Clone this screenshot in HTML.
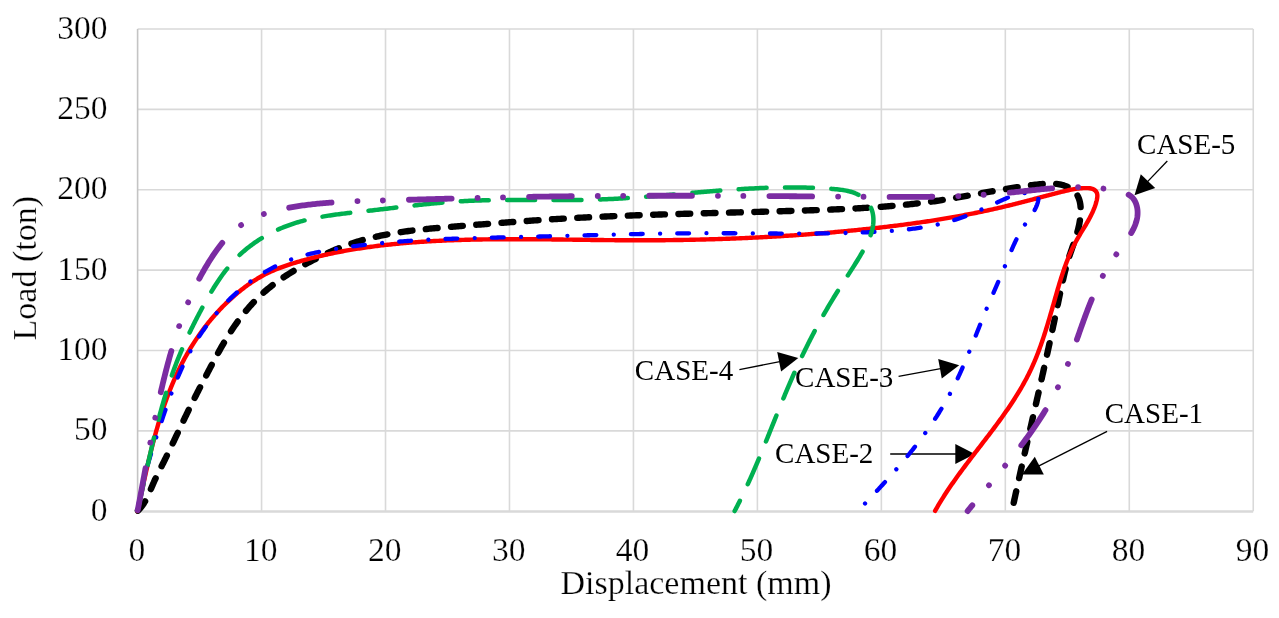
<!DOCTYPE html>
<html><head><meta charset="utf-8"><style>
html,body{margin:0;padding:0;background:#fff;width:1279px;height:618px;overflow:hidden;font-family:"Liberation Serif",serif}
svg{display:block;will-change:transform}
</style></head><body>
<svg width="1279" height="618" viewBox="0 0 1279 618">
<rect width="1279" height="618" fill="#fff"/>
<g stroke="#d9d9d9" stroke-width="1.6"><line x1="137.6" y1="430.92" x2="1253.2" y2="430.92"/><line x1="137.6" y1="350.53" x2="1253.2" y2="350.53"/><line x1="137.6" y1="270.15" x2="1253.2" y2="270.15"/><line x1="137.6" y1="189.76" x2="1253.2" y2="189.76"/><line x1="137.6" y1="109.38" x2="1253.2" y2="109.38"/><line x1="137.6" y1="28.99" x2="1253.2" y2="28.99"/><line x1="261.56" y1="29" x2="261.56" y2="511.3"/><line x1="385.52" y1="29" x2="385.52" y2="511.3"/><line x1="509.48" y1="29" x2="509.48" y2="511.3"/><line x1="633.44" y1="29" x2="633.44" y2="511.3"/><line x1="757.40" y1="29" x2="757.40" y2="511.3"/><line x1="881.36" y1="29" x2="881.36" y2="511.3"/><line x1="1005.32" y1="29" x2="1005.32" y2="511.3"/><line x1="1129.28" y1="29" x2="1129.28" y2="511.3"/><line x1="1253.24" y1="29" x2="1253.24" y2="511.3"/><line x1="137.6" y1="511.4" x2="1253.2" y2="511.4" stroke-width="2.5"/><line x1="137.6" y1="29" x2="137.6" y2="511.3" stroke="#c4c4c4"/></g>
<g font-family="Liberation Serif" font-size="33.5" fill="#000" stroke="#fff" stroke-width="0.25"><text x="107.4" y="520.8" text-anchor="end">0</text><text x="107.4" y="440.4" text-anchor="end">50</text><text x="107.4" y="360.0" text-anchor="end">100</text><text x="107.4" y="279.6" text-anchor="end">150</text><text x="107.4" y="199.3" text-anchor="end">200</text><text x="107.4" y="118.9" text-anchor="end">250</text><text x="107.4" y="38.5" text-anchor="end">300</text><text x="136.8" y="561" text-anchor="middle">0</text><text x="260.8" y="561" text-anchor="middle">10</text><text x="384.7" y="561" text-anchor="middle">20</text><text x="508.7" y="561" text-anchor="middle">30</text><text x="632.6" y="561" text-anchor="middle">40</text><text x="756.6" y="561" text-anchor="middle">50</text><text x="880.6" y="561" text-anchor="middle">60</text><text x="1004.5" y="561" text-anchor="middle">70</text><text x="1128.5" y="561" text-anchor="middle">80</text><text x="1252.4" y="561" text-anchor="middle">90</text></g>
<text x="696" y="594" text-anchor="middle" font-family="Liberation Serif" font-size="34" stroke="#fff" stroke-width="0.25">Displacement (mm)</text>
<text transform="translate(36.1,268.2) rotate(-90)" text-anchor="middle" font-family="Liberation Serif" font-size="34" stroke="#fff" stroke-width="0.25">Load (ton)</text>
<line x1="1167.3" y1="161.0" x2="1146.6" y2="182.6" stroke="#000" stroke-width="1.3"/><polygon points="1134.5,195.2 1140.8,174.2 1155.2,188.0" fill="#000"/>
<line x1="739.4" y1="369.6" x2="781.1" y2="361.4" stroke="#000" stroke-width="1.3"/><polygon points="798.3,358.0 781.1,371.6 777.2,352.0" fill="#000"/>
<line x1="898.6" y1="376.4" x2="942.0" y2="368.4" stroke="#000" stroke-width="1.3"/><polygon points="959.2,365.2 941.8,378.6 938.2,358.9" fill="#000"/>
<line x1="890.2" y1="454.0" x2="957.3" y2="454.0" stroke="#000" stroke-width="1.3"/><polygon points="974.8,454.0 955.3,464.0 955.3,444.0" fill="#000"/>
<line x1="1107.1" y1="431.4" x2="1037.5" y2="466.6" stroke="#000" stroke-width="1.3"/><polygon points="1021.9,474.5 1034.8,456.8 1043.8,474.6" fill="#000"/>
<path d="M137.55,511.03 L138.64,509.98 139.67,508.89 140.64,507.76 141.57,506.60 142.45,505.42 143.29,504.20 144.10,502.96 144.86,501.70 145.59,500.41 146.30,499.11 146.98,497.78 147.63,496.45 148.27,495.10 148.89,493.73 149.49,492.36 150.09,490.98 150.68,489.60 151.26,488.21 151.85,486.83 152.44,485.44 153.03,484.05 153.64,482.68 154.25,481.30 154.88,479.94 155.51,478.57 156.15,477.22 156.80,475.86 157.46,474.51 158.12,473.16 158.78,471.82 159.45,470.48 160.12,469.13 160.80,467.79 161.47,466.45 162.15,465.11 162.82,463.77 163.50,462.43 164.17,461.09 164.84,459.74 165.50,458.40 166.17,457.05 166.83,455.70 167.49,454.35 168.14,453.00 168.80,451.64 169.45,450.29 170.10,448.93 170.75,447.58 171.40,446.22 172.05,444.87 172.69,443.51 173.34,442.15 173.98,440.79 174.62,439.43 175.26,438.07 175.91,436.71 176.55,435.35 177.19,434.00 177.83,432.64 178.47,431.28 179.11,429.92 179.75,428.56 180.39,427.21 181.03,425.85 181.68,424.49 182.32,423.14 182.96,421.79 183.61,420.43 184.26,419.08 184.90,417.73 185.55,416.38 186.20,415.04 186.85,413.69 187.51,412.34 188.16,411.00 188.82,409.66 189.48,408.32 190.14,406.98 190.80,405.64 191.47,404.31 192.13,402.97 192.80,401.64 193.47,400.30 194.14,398.97 194.81,397.64 195.48,396.31 196.15,394.98 196.83,393.65 197.51,392.32 198.18,390.99 198.86,389.66 199.54,388.33 200.22,387.00 200.91,385.68 201.59,384.35 202.28,383.02 202.96,381.69 203.65,380.36 204.34,379.04 205.03,377.71 205.72,376.38 206.41,375.05 207.10,373.72 207.79,372.39 208.49,371.06 209.18,369.73 209.88,368.39 210.58,367.06 211.28,365.73 211.98,364.40 212.68,363.07 213.39,361.73 214.09,360.40 214.80,359.08 215.52,357.75 216.23,356.42 216.95,355.10 217.67,353.77 218.40,352.45 219.13,351.13 219.87,349.82 220.60,348.50 221.35,347.19 222.09,345.88 222.85,344.58 223.60,343.28 224.37,341.98 225.13,340.68 225.91,339.39 226.69,338.11 227.47,336.82 228.26,335.55 229.06,334.27 229.87,333.01 230.68,331.74 231.50,330.49 232.32,329.23 233.15,327.99 234.00,326.75 234.84,325.51 235.70,324.29 236.57,323.06 237.44,321.85 238.32,320.64 239.21,319.44 240.11,318.25 241.01,317.06 241.93,315.88 242.85,314.70 243.78,313.54 244.72,312.38 245.67,311.23 246.62,310.09 247.59,308.95 248.56,307.83 249.55,306.71 250.54,305.60 251.54,304.49 252.55,303.40 253.57,302.32 254.60,301.24 255.64,300.17 256.68,299.11 257.74,298.06 258.81,297.02 259.88,295.99 260.97,294.97 262.06,293.96 263.17,292.96 264.28,291.97 265.40,290.99 266.54,290.01 267.68,289.05 268.83,288.10 270.00,287.16 271.17,286.23 272.35,285.31 273.54,284.40 274.74,283.49 275.94,282.60 277.16,281.72 278.38,280.84 279.61,279.98 280.85,279.12 282.09,278.27 283.35,277.43 284.60,276.59 285.87,275.77 287.14,274.95 288.41,274.14 289.69,273.34 290.98,272.55 292.27,271.76 293.56,270.98 294.86,270.20 296.17,269.44 297.47,268.68 298.79,267.92 300.10,267.17 301.42,266.43 302.74,265.69 304.06,264.96 305.38,264.23 306.71,263.51 308.04,262.80 309.37,262.09 310.71,261.38 312.04,260.69 313.38,259.99 314.72,259.31 316.06,258.63 317.41,257.95 318.76,257.29 320.11,256.63 321.46,255.97 322.81,255.33 324.17,254.69 325.53,254.05 326.89,253.43 328.25,252.81 329.62,252.19 330.99,251.59 332.36,250.99 333.74,250.40 335.11,249.82 336.49,249.25 337.87,248.68 339.26,248.12 340.65,247.57 342.03,247.03 343.43,246.50 344.82,245.97 346.22,245.46 347.62,244.95 349.02,244.45 350.43,243.96 351.84,243.48 353.25,243.01 354.66,242.55 356.08,242.09 357.50,241.65 358.92,241.21 360.35,240.79 361.77,240.37 363.20,239.97 364.64,239.57 366.07,239.18 367.51,238.80 368.95,238.42 370.39,238.06 371.84,237.70 373.29,237.35 374.74,237.01 376.19,236.68 377.64,236.36 379.10,236.04 380.56,235.73 382.02,235.43 383.48,235.13 384.95,234.84 386.41,234.56 387.88,234.28 389.35,234.01 390.82,233.75 392.30,233.50 393.77,233.24 395.25,233.00 396.73,232.76 398.21,232.53 399.69,232.30 401.17,232.08 402.65,231.86 404.14,231.65 405.63,231.44 407.12,231.24 408.60,231.04 410.10,230.85 411.59,230.66 413.08,230.48 414.57,230.30 416.07,230.12 417.56,229.95 419.06,229.78 420.56,229.61 422.06,229.45 423.56,229.29 425.06,229.14 426.56,228.99 428.06,228.84 429.56,228.69 431.06,228.55 432.56,228.41 434.07,228.27 435.57,228.13 437.07,227.99 438.58,227.86 440.08,227.73 441.59,227.60 443.09,227.47 444.60,227.34 446.10,227.22 447.61,227.09 449.11,226.97 450.62,226.85 452.12,226.73 453.63,226.60 455.13,226.48 456.63,226.36 458.14,226.24 459.64,226.12 461.14,226.00 462.65,225.88 464.15,225.76 465.65,225.64 467.15,225.52 468.65,225.40 470.16,225.28 471.66,225.16 473.16,225.04 474.66,224.92 476.16,224.80 477.66,224.68 479.16,224.56 480.66,224.44 482.16,224.32 483.66,224.20 485.16,224.09 486.65,223.97 488.15,223.85 489.65,223.73 491.15,223.62 492.65,223.50 494.14,223.38 495.64,223.27 497.14,223.15 498.64,223.04 500.13,222.92 501.63,222.81 503.13,222.70 504.62,222.58 506.12,222.47 507.62,222.36 509.11,222.25 510.61,222.14 512.10,222.03 513.60,221.91 515.10,221.81 516.59,221.70 518.09,221.59 519.58,221.48 521.08,221.37 522.57,221.26 524.07,221.16 525.56,221.05 527.06,220.95 528.55,220.84 530.05,220.74 531.54,220.64 533.04,220.53 534.53,220.43 536.02,220.33 537.52,220.23 539.01,220.13 540.51,220.03 542.00,219.93 543.50,219.84 544.99,219.74 546.49,219.64 547.98,219.55 549.48,219.45 550.97,219.36 552.46,219.27 553.96,219.18 555.45,219.09 556.95,219.00 558.44,218.91 559.94,218.82 561.43,218.73 562.93,218.64 564.42,218.56 565.92,218.47 567.41,218.39 568.91,218.31 570.40,218.22 571.90,218.14 573.39,218.06 574.89,217.98 576.38,217.90 577.88,217.82 579.37,217.75 580.87,217.67 582.37,217.59 583.86,217.52 585.36,217.45 586.85,217.37 588.35,217.30 589.84,217.23 591.34,217.15 592.84,217.08 594.33,217.01 595.83,216.94 597.32,216.88 598.82,216.81 600.32,216.74 601.81,216.67 603.31,216.61 604.80,216.54 606.30,216.48 607.80,216.41 609.29,216.35 610.79,216.29 612.29,216.23 613.78,216.16 615.28,216.10 616.78,216.04 618.27,215.98 619.77,215.92 621.27,215.86 622.76,215.81 624.26,215.75 625.76,215.69 627.25,215.63 628.75,215.58 630.25,215.52 631.74,215.47 633.24,215.41 634.74,215.36 636.24,215.31 637.73,215.25 639.23,215.20 640.73,215.15 642.23,215.10 643.72,215.05 645.22,214.99 646.72,214.94 648.22,214.89 649.71,214.84 651.21,214.80 652.71,214.75 654.21,214.70 655.71,214.65 657.20,214.60 658.70,214.56 660.20,214.51 661.70,214.46 663.20,214.42 664.69,214.37 666.19,214.33 667.69,214.28 669.19,214.24 670.69,214.19 672.19,214.15 673.68,214.10 675.18,214.06 676.68,214.02 678.18,213.97 679.68,213.93 681.18,213.89 682.68,213.85 684.18,213.80 685.67,213.76 687.17,213.72 688.67,213.68 690.17,213.64 691.67,213.60 693.17,213.55 694.67,213.51 696.17,213.47 697.67,213.43 699.17,213.39 700.67,213.35 702.17,213.31 703.67,213.27 705.17,213.23 706.67,213.19 708.17,213.16 709.67,213.12 711.17,213.08 712.66,213.04 714.16,213.00 715.66,212.96 717.16,212.92 718.67,212.88 720.17,212.84 721.67,212.80 723.17,212.77 724.67,212.73 726.17,212.69 727.67,212.65 729.17,212.61 730.67,212.57 732.17,212.53 733.67,212.49 735.17,212.46 736.67,212.42 738.17,212.38 739.67,212.34 741.17,212.30 742.67,212.26 744.17,212.22 745.68,212.18 747.18,212.14 748.68,212.10 750.18,212.07 751.68,212.03 753.18,211.99 754.68,211.95 756.18,211.91 757.69,211.87 759.19,211.83 760.69,211.79 762.19,211.74 763.69,211.70 765.19,211.66 766.70,211.62 768.20,211.58 769.70,211.54 771.20,211.50 772.70,211.46 774.21,211.41 775.71,211.37 777.21,211.33 778.71,211.28 780.21,211.24 781.72,211.20 783.22,211.15 784.72,211.11 786.22,211.07 787.73,211.02 789.23,210.98 790.73,210.93 792.24,210.88 793.74,210.84 795.24,210.79 796.74,210.75 798.25,210.70 799.75,210.65 801.25,210.60 802.76,210.56 804.26,210.51 805.76,210.46 807.27,210.41 808.77,210.36 810.27,210.31 811.78,210.26 813.28,210.21 814.78,210.15 816.29,210.10 817.79,210.05 819.29,210.00 820.80,209.94 822.30,209.89 823.80,209.83 825.31,209.78 826.81,209.72 828.31,209.66 829.82,209.60 831.32,209.54 832.82,209.48 834.33,209.42 835.83,209.36 837.33,209.30 838.84,209.23 840.34,209.17 841.84,209.10 843.34,209.03 844.84,208.96 846.35,208.89 847.85,208.82 849.35,208.75 850.85,208.67 852.35,208.60 853.85,208.52 855.35,208.44 856.86,208.36 858.36,208.28 859.86,208.19 861.36,208.11 862.86,208.02 864.35,207.93 865.85,207.84 867.35,207.75 868.85,207.66 870.35,207.56 871.85,207.46 873.34,207.37 874.84,207.26 876.34,207.16 877.83,207.06 879.33,206.95 880.83,206.84 882.32,206.73 883.82,206.61 885.31,206.50 886.80,206.38 888.30,206.26 889.79,206.14 891.28,206.01 892.78,205.88 894.27,205.75 895.76,205.62 897.25,205.49 898.74,205.35 900.23,205.21 901.72,205.07 903.21,204.92 904.69,204.78 906.18,204.63 907.67,204.47 909.16,204.32 910.64,204.16 912.13,204.00 913.61,203.83 915.10,203.66 916.58,203.49 918.06,203.32 919.54,203.14 921.03,202.97 922.51,202.78 923.99,202.60 925.47,202.41 926.95,202.22 928.42,202.02 929.90,201.82 931.38,201.62 932.85,201.42 934.33,201.21 935.80,201.00 937.28,200.78 938.75,200.56 940.22,200.34 941.70,200.12 943.17,199.89 944.64,199.66 946.11,199.42 947.58,199.19 949.05,198.95 950.52,198.70 951.98,198.46 953.45,198.21 954.92,197.96 956.39,197.71 957.86,197.46 959.32,197.21 960.79,196.95 962.26,196.69 963.73,196.44 965.20,196.18 966.66,195.91 968.13,195.65 969.60,195.39 971.07,195.13 972.54,194.86 974.01,194.60 975.48,194.33 976.95,194.06 978.42,193.80 979.89,193.53 981.37,193.27 982.84,193.00 984.31,192.74 985.79,192.47 987.26,192.21 988.74,191.94 990.22,191.68 991.70,191.42 993.18,191.16 994.66,190.90 996.14,190.64 997.62,190.38 999.10,190.13 1000.59,189.87 1002.08,189.62 1003.56,189.37 1005.05,189.13 1006.54,188.88 1008.04,188.64 1009.53,188.39 1011.03,188.16 1012.52,187.92 1014.02,187.69 1015.52,187.46 1017.03,187.23 1018.53,187.01 1020.04,186.78 1021.55,186.57 1023.06,186.35 1024.57,186.14 1026.08,185.94 1027.60,185.73 1029.12,185.53 1030.64,185.34 1032.16,185.15 1033.69,184.96 1035.22,184.78 1036.75,184.60 1038.28,184.43 1039.81,184.27 1041.35,184.11 1042.89,183.97 1044.42,183.84 1045.95,183.74 1047.48,183.66 1049.01,183.61 1050.53,183.59 1052.05,183.61 1053.56,183.66 1055.06,183.76 1056.55,183.90 1058.03,184.09 1059.50,184.33 1060.96,184.64 1062.41,184.99 1063.85,185.42 1065.26,185.91 1066.66,186.46 1068.02,187.08 1069.33,187.77 1070.61,188.52 1071.82,189.34 1072.97,190.22 1074.05,191.17 1075.04,192.18 1075.95,193.26 1076.77,194.40 1077.50,195.60 1078.14,196.86 1078.71,198.17 1079.19,199.52 1079.60,200.91 1079.95,202.34 1080.22,203.81 1080.43,205.30 1080.58,206.81 1080.68,208.35 1080.72,209.90 1080.72,211.45 1080.67,213.02 1080.58,214.58 1080.45,216.15 1080.28,217.70 1080.08,219.24 1079.86,220.77 1079.61,222.29 1079.33,223.79 1079.03,225.28 1078.71,226.76 1078.37,228.22 1078.00,229.68 1077.62,231.13 1077.22,232.57 1076.81,234.00 1076.38,235.43 1075.94,236.85 1075.49,238.26 1075.03,239.67 1074.56,241.08 1074.09,242.48 1073.61,243.88 1073.12,245.28 1072.63,246.67 1072.15,248.07 1071.66,249.47 1071.17,250.87 1070.69,252.27 1070.21,253.67 1069.74,255.08 1069.28,256.49 1068.83,257.90 1068.38,259.33 1067.95,260.75 1067.52,262.19 1067.11,263.62 1066.70,265.07 1066.31,266.51 1065.92,267.96 1065.54,269.42 1065.16,270.87 1064.80,272.34 1064.44,273.80 1064.08,275.27 1063.73,276.73 1063.39,278.21 1063.05,279.68 1062.72,281.15 1062.39,282.63 1062.06,284.10 1061.74,285.58 1061.42,287.05 1061.10,288.53 1060.79,290.00 1060.47,291.48 1060.16,292.95 1059.85,294.42 1059.54,295.90 1059.23,297.37 1058.92,298.84 1058.61,300.30 1058.30,301.77 1058.00,303.24 1057.69,304.71 1057.38,306.17 1057.08,307.64 1056.77,309.10 1056.47,310.57 1056.16,312.03 1055.86,313.49 1055.55,314.95 1055.24,316.42 1054.94,317.88 1054.63,319.34 1054.33,320.80 1054.02,322.26 1053.71,323.73 1053.40,325.19 1053.09,326.65 1052.78,328.11 1052.47,329.57 1052.16,331.03 1051.85,332.50 1051.53,333.96 1051.22,335.42 1050.91,336.88 1050.59,338.34 1050.28,339.81 1049.96,341.27 1049.64,342.73 1049.32,344.19 1049.01,345.65 1048.69,347.12 1048.37,348.58 1048.05,350.04 1047.73,351.50 1047.41,352.97 1047.09,354.43 1046.76,355.89 1046.44,357.35 1046.12,358.82 1045.79,360.28 1045.47,361.74 1045.15,363.20 1044.82,364.67 1044.49,366.13 1044.17,367.59 1043.84,369.05 1043.52,370.52 1043.19,371.98 1042.86,373.44 1042.53,374.90 1042.20,376.37 1041.88,377.83 1041.55,379.29 1041.22,380.75 1040.89,382.22 1040.56,383.68 1040.23,385.14 1039.90,386.61 1039.57,388.07 1039.23,389.53 1038.90,391.00 1038.57,392.46 1038.24,393.92 1037.91,395.38 1037.58,396.85 1037.24,398.31 1036.91,399.77 1036.58,401.24 1036.24,402.70 1035.91,404.16 1035.58,405.63 1035.24,407.09 1034.91,408.55 1034.58,410.02 1034.24,411.48 1033.91,412.94 1033.57,414.41 1033.24,415.87 1032.91,417.33 1032.57,418.79 1032.24,420.26 1031.90,421.72 1031.57,423.18 1031.24,424.65 1030.90,426.11 1030.57,427.57 1030.23,429.04 1029.90,430.50 1029.57,431.96 1029.23,433.43 1028.90,434.89 1028.56,436.35 1028.23,437.82 1027.90,439.28 1027.56,440.74 1027.23,442.21 1026.90,443.67 1026.56,445.13 1026.23,446.60 1025.90,448.06 1025.57,449.52 1025.23,450.99 1024.90,452.45 1024.57,453.91 1024.24,455.38 1023.91,456.84 1023.58,458.30 1023.25,459.77 1022.92,461.23 1022.59,462.69 1022.26,464.16 1021.93,465.62 1021.60,467.08 1021.27,468.55 1020.94,470.01 1020.61,471.47 1020.28,472.94 1019.96,474.40 1019.63,475.86 1019.30,477.33 1018.98,478.79 1018.65,480.25 1018.33,481.72 1018.00,483.18 1017.68,484.64 1017.35,486.11 1017.03,487.57 1016.71,489.03 1016.39,490.50 1016.06,491.96 1015.74,493.42 1015.42,494.88 1015.10,496.35 1014.78,497.81 1014.46,499.27 1014.15,500.74 1013.83,502.20 1013.51,503.66 1013.19,505.13 1012.88,506.59 1012.56,508.05 1012.25,509.51 1011.93,510.98" fill="none" stroke="#000000" stroke-width="6.4" stroke-linecap="round" stroke-linejoin="round" stroke-dasharray="11.80 13.51" stroke-dashoffset="24.77"/>
<path d="M137.50,510.99 L137.82,509.54 138.13,508.09 138.45,506.64 138.76,505.19 139.08,503.74 139.39,502.28 139.71,500.83 140.02,499.37 140.34,497.92 140.65,496.46 140.97,495.00 141.28,493.54 141.60,492.08 141.92,490.62 142.24,489.16 142.55,487.70 142.87,486.23 143.19,484.77 143.51,483.30 143.84,481.84 144.16,480.38 144.48,478.91 144.81,477.45 145.14,475.98 145.46,474.51 145.79,473.05 146.13,471.58 146.46,470.12 146.79,468.65 147.13,467.18 147.47,465.72 147.81,464.25 148.15,462.79 148.50,461.32 148.84,459.85 149.19,458.39 149.54,456.93 149.90,455.46 150.25,454.00 150.61,452.53 150.97,451.07 151.34,449.61 151.71,448.15 152.08,446.69 152.45,445.23 152.82,443.77 153.20,442.31 153.59,440.86 153.97,439.40 154.36,437.95 154.75,436.49 155.15,435.04 155.55,433.59 155.95,432.14 156.36,430.69 156.77,429.24 157.19,427.79 157.61,426.35 158.03,424.91 158.46,423.46 158.89,422.02 159.32,420.59 159.76,419.15 160.21,417.71 160.66,416.28 161.11,414.85 161.57,413.42 162.03,411.99 162.50,410.56 162.97,409.14 163.45,407.72 163.94,406.30 164.42,404.88 164.92,403.47 165.42,402.05 165.92,400.64 166.43,399.23 166.95,397.83 167.47,396.42 168.00,395.02 168.53,393.63 169.07,392.23 169.61,390.84 170.16,389.45 170.72,388.06 171.28,386.67 171.85,385.29 172.43,383.91 173.01,382.54 173.60,381.16 174.19,379.79 174.79,378.43 175.40,377.06 176.02,375.70 176.64,374.34 177.27,372.99 177.91,371.64 178.55,370.29 179.20,368.95 179.86,367.61 180.52,366.27 181.20,364.94 181.88,363.61 182.57,362.28 183.26,360.96 183.97,359.64 184.68,358.32 185.40,357.01 186.12,355.71 186.86,354.40 187.60,353.10 188.35,351.81 189.11,350.52 189.88,349.23 190.66,347.95 191.44,346.67 192.23,345.40 193.03,344.13 193.84,342.87 194.66,341.61 195.48,340.36 196.31,339.11 197.15,337.87 198.00,336.63 198.85,335.40 199.72,334.17 200.59,332.95 201.47,331.73 202.35,330.52 203.25,329.32 204.15,328.12 205.06,326.93 205.98,325.74 206.90,324.56 207.84,323.38 208.78,322.21 209.73,321.05 210.68,319.90 211.65,318.75 212.62,317.61 213.60,316.47 214.59,315.34 215.58,314.22 216.59,313.10 217.60,312.00 218.61,310.90 219.64,309.80 220.67,308.72 221.71,307.64 222.76,306.57 223.82,305.50 224.88,304.45 225.95,303.40 227.03,302.36 228.11,301.33 229.21,300.30 230.31,299.29 231.41,298.28 232.53,297.28 233.65,296.29 234.78,295.31 235.92,294.33 237.06,293.37 238.22,292.41 239.38,291.46 240.54,290.52 241.72,289.59 242.90,288.67 244.09,287.76 245.28,286.86 246.49,285.97 247.70,285.09 248.92,284.22 250.14,283.36 251.38,282.52 252.62,281.69 253.87,280.87 255.13,280.06 256.40,279.27 257.67,278.49 258.96,277.73 260.25,276.98 261.55,276.25 262.86,275.53 264.18,274.84 265.50,274.15 266.84,273.49 268.18,272.83 269.53,272.20 270.89,271.58 272.25,270.97 273.63,270.37 275.00,269.79 276.39,269.23 277.78,268.67 279.17,268.13 280.58,267.59 281.98,267.07 283.39,266.56 284.81,266.06 286.23,265.57 287.65,265.09 289.08,264.62 290.51,264.16 291.94,263.70 293.38,263.26 294.82,262.82 296.26,262.38 297.70,261.96 299.14,261.53 300.59,261.12 302.04,260.71 303.48,260.30 304.93,259.91 306.38,259.51 307.83,259.12 309.29,258.74 310.74,258.36 312.19,257.98 313.65,257.62 315.11,257.25 316.56,256.89 318.02,256.54 319.48,256.19 320.94,255.85 322.40,255.51 323.87,255.17 325.33,254.84 326.79,254.52 328.26,254.20 329.72,253.88 331.19,253.57 332.66,253.26 334.13,252.96 335.60,252.66 337.07,252.37 338.54,252.08 340.01,251.79 341.48,251.51 342.95,251.24 344.43,250.96 345.90,250.70 347.38,250.43 348.85,250.17 350.33,249.92 351.81,249.67 353.29,249.42 354.77,249.18 356.25,248.94 357.73,248.70 359.21,248.47 360.69,248.24 362.17,248.02 363.66,247.80 365.14,247.58 366.62,247.37 368.11,247.16 369.59,246.96 371.08,246.75 372.56,246.56 374.05,246.36 375.54,246.17 377.03,245.98 378.51,245.80 380.00,245.62 381.49,245.44 382.98,245.27 384.47,245.10 385.96,244.93 387.45,244.77 388.94,244.60 390.44,244.45 391.93,244.29 393.42,244.14 394.91,243.99 396.40,243.85 397.90,243.70 399.39,243.56 400.88,243.43 402.38,243.29 403.87,243.16 405.37,243.03 406.86,242.91 408.36,242.78 409.85,242.66 411.35,242.54 412.84,242.43 414.34,242.32 415.83,242.21 417.33,242.10 418.83,241.99 420.32,241.89 421.82,241.79 423.32,241.69 424.81,241.60 426.31,241.50 427.81,241.41 429.30,241.32 430.80,241.24 432.30,241.15 433.79,241.07 435.29,240.99 436.79,240.91 438.28,240.83 439.78,240.76 441.28,240.69 442.77,240.62 444.27,240.55 445.77,240.48 447.27,240.42 448.76,240.36 450.26,240.30 451.76,240.24 453.25,240.18 454.75,240.13 456.25,240.07 457.75,240.02 459.24,239.97 460.74,239.93 462.24,239.88 463.74,239.84 465.24,239.79 466.73,239.75 468.23,239.71 469.73,239.68 471.23,239.64 472.72,239.61 474.22,239.57 475.72,239.54 477.22,239.51 478.72,239.48 480.21,239.46 481.71,239.43 483.21,239.41 484.71,239.38 486.21,239.36 487.71,239.34 489.20,239.32 490.70,239.30 492.20,239.29 493.70,239.27 495.20,239.26 496.70,239.25 498.19,239.24 499.69,239.23 501.19,239.22 502.69,239.21 504.19,239.20 505.69,239.20 507.19,239.19 508.69,239.19 510.18,239.19 511.68,239.18 513.18,239.18 514.68,239.18 516.18,239.18 517.68,239.19 519.18,239.19 520.68,239.19 522.18,239.20 523.68,239.20 525.18,239.21 526.67,239.22 528.17,239.23 529.67,239.23 531.17,239.24 532.67,239.25 534.17,239.26 535.67,239.27 537.17,239.29 538.67,239.30 540.17,239.31 541.67,239.32 543.17,239.34 544.67,239.35 546.17,239.37 547.67,239.38 549.17,239.40 550.67,239.42 552.17,239.43 553.67,239.45 555.17,239.47 556.67,239.48 558.17,239.50 559.67,239.52 561.17,239.54 562.67,239.56 564.17,239.58 565.67,239.60 567.17,239.61 568.67,239.63 570.17,239.65 571.67,239.67 573.17,239.69 574.67,239.71 576.17,239.73 577.67,239.75 579.17,239.77 580.67,239.79 582.17,239.81 583.67,239.83 585.17,239.85 586.67,239.87 588.17,239.89 589.67,239.91 591.17,239.93 592.67,239.95 594.17,239.96 595.68,239.98 597.18,240.00 598.68,240.02 600.18,240.03 601.68,240.05 603.18,240.07 604.68,240.08 606.18,240.10 607.68,240.11 609.18,240.13 610.68,240.14 612.18,240.16 613.69,240.17 615.19,240.18 616.69,240.20 618.19,240.21 619.69,240.22 621.19,240.23 622.69,240.24 624.19,240.25 625.69,240.26 627.20,240.26 628.70,240.27 630.20,240.28 631.70,240.28 633.20,240.29 634.70,240.29 636.20,240.29 637.71,240.29 639.21,240.29 640.71,240.29 642.21,240.29 643.71,240.29 645.21,240.29 646.71,240.29 648.22,240.28 649.72,240.28 651.22,240.27 652.72,240.26 654.22,240.26 655.72,240.25 657.22,240.24 658.73,240.23 660.23,240.22 661.73,240.20 663.23,240.19 664.73,240.18 666.23,240.16 667.74,240.15 669.24,240.13 670.74,240.11 672.24,240.09 673.74,240.07 675.24,240.05 676.74,240.03 678.25,240.01 679.75,239.99 681.25,239.96 682.75,239.94 684.25,239.91 685.75,239.88 687.25,239.86 688.76,239.83 690.26,239.80 691.76,239.77 693.26,239.74 694.76,239.70 696.26,239.67 697.76,239.63 699.27,239.60 700.77,239.56 702.27,239.53 703.77,239.49 705.27,239.45 706.77,239.41 708.27,239.37 709.77,239.32 711.27,239.28 712.77,239.24 714.28,239.19 715.78,239.14 717.28,239.10 718.78,239.05 720.28,239.00 721.78,238.95 723.28,238.90 724.78,238.85 726.28,238.79 727.78,238.74 729.28,238.68 730.78,238.63 732.28,238.57 733.78,238.51 735.28,238.45 736.78,238.39 738.28,238.33 739.78,238.27 741.28,238.21 742.78,238.14 744.28,238.08 745.78,238.01 747.28,237.94 748.78,237.88 750.28,237.81 751.78,237.74 753.28,237.66 754.78,237.59 756.28,237.52 757.78,237.44 759.27,237.37 760.77,237.29 762.27,237.21 763.77,237.13 765.27,237.05 766.77,236.97 768.27,236.89 769.77,236.81 771.26,236.72 772.76,236.64 774.26,236.55 775.76,236.46 777.26,236.38 778.75,236.29 780.25,236.20 781.75,236.10 783.25,236.01 784.74,235.92 786.24,235.82 787.74,235.73 789.24,235.63 790.73,235.53 792.23,235.43 793.73,235.33 795.22,235.23 796.72,235.13 798.22,235.02 799.71,234.92 801.21,234.81 802.71,234.70 804.20,234.59 805.70,234.48 807.19,234.37 808.69,234.26 810.19,234.15 811.68,234.04 813.18,233.92 814.67,233.80 816.17,233.69 817.66,233.57 819.16,233.45 820.65,233.33 822.15,233.21 823.64,233.08 825.13,232.96 826.63,232.83 828.12,232.71 829.62,232.58 831.11,232.45 832.60,232.32 834.10,232.19 835.59,232.05 837.08,231.92 838.58,231.79 840.07,231.65 841.56,231.51 843.06,231.37 844.55,231.23 846.04,231.09 847.53,230.95 849.02,230.81 850.52,230.66 852.01,230.52 853.50,230.37 854.99,230.22 856.48,230.07 857.97,229.92 859.46,229.77 860.96,229.62 862.45,229.47 863.94,229.31 865.43,229.15 866.92,229.00 868.41,228.84 869.90,228.68 871.39,228.52 872.88,228.35 874.36,228.19 875.85,228.02 877.34,227.86 878.83,227.69 880.32,227.52 881.81,227.35 883.30,227.18 884.78,227.00 886.27,226.83 887.76,226.65 889.25,226.48 890.73,226.30 892.22,226.12 893.71,225.93 895.19,225.75 896.68,225.56 898.17,225.38 899.65,225.19 901.14,225.00 902.62,224.81 904.11,224.61 905.59,224.42 907.08,224.22 908.56,224.02 910.05,223.82 911.53,223.62 913.02,223.42 914.50,223.21 915.98,223.00 917.47,222.80 918.95,222.58 920.43,222.37 921.91,222.16 923.40,221.94 924.88,221.72 926.36,221.50 927.84,221.28 929.32,221.06 930.80,220.83 932.29,220.60 933.77,220.37 935.25,220.14 936.73,219.90 938.21,219.67 939.69,219.43 941.16,219.19 942.64,218.94 944.12,218.70 945.60,218.45 947.08,218.20 948.56,217.95 950.03,217.70 951.51,217.44 952.99,217.18 954.47,216.92 955.94,216.66 957.42,216.39 958.89,216.13 960.37,215.86 961.84,215.59 963.32,215.31 964.79,215.03 966.27,214.75 967.74,214.47 969.22,214.19 970.69,213.90 972.16,213.61 973.64,213.32 975.11,213.02 976.58,212.73 978.05,212.43 979.52,212.13 980.99,211.82 982.47,211.51 983.94,211.20 985.41,210.89 986.88,210.57 988.35,210.26 989.81,209.93 991.28,209.61 992.75,209.28 994.22,208.96 995.69,208.62 997.16,208.29 998.62,207.95 1000.09,207.61 1001.56,207.27 1003.02,206.92 1004.49,206.57 1005.95,206.22 1007.42,205.86 1008.88,205.50 1010.35,205.14 1011.81,204.78 1013.27,204.42 1014.74,204.05 1016.20,203.68 1017.66,203.31 1019.12,202.93 1020.58,202.56 1022.04,202.18 1023.50,201.80 1024.96,201.42 1026.42,201.04 1027.88,200.66 1029.33,200.28 1030.79,199.90 1032.24,199.51 1033.70,199.13 1035.15,198.75 1036.60,198.36 1038.06,197.98 1039.51,197.59 1040.96,197.21 1042.41,196.83 1043.85,196.44 1045.30,196.06 1046.75,195.68 1048.19,195.30 1049.64,194.92 1051.08,194.54 1052.52,194.17 1053.96,193.79 1055.40,193.42 1056.84,193.05 1058.28,192.68 1059.71,192.31 1061.15,191.95 1062.58,191.59 1064.02,191.24 1065.45,190.89 1066.89,190.55 1068.34,190.23 1069.79,189.92 1071.25,189.63 1072.71,189.36 1074.19,189.11 1075.67,188.88 1077.17,188.68 1078.68,188.50 1080.20,188.36 1081.74,188.24 1083.30,188.17 1084.87,188.12 1086.46,188.12 1088.07,188.16 1089.66,188.29 1091.19,188.54 1092.64,188.96 1093.96,189.58 1095.11,190.39 1096.05,191.38 1096.72,192.51 1097.14,193.75 1097.34,195.09 1097.34,196.51 1097.19,197.98 1096.92,199.49 1096.56,201.00 1096.15,202.51 1095.70,204.00 1095.22,205.47 1094.71,206.92 1094.16,208.35 1093.59,209.77 1093.00,211.17 1092.38,212.55 1091.73,213.92 1091.07,215.28 1090.39,216.63 1089.68,217.96 1088.97,219.29 1088.24,220.61 1087.50,221.91 1086.74,223.22 1085.98,224.51 1085.21,225.80 1084.44,227.09 1083.66,228.37 1082.88,229.65 1082.11,230.93 1081.33,232.21 1080.56,233.49 1079.79,234.77 1079.03,236.05 1078.28,237.34 1077.53,238.63 1076.81,239.93 1076.09,241.23 1075.39,242.54 1074.70,243.86 1074.03,245.18 1073.37,246.51 1072.72,247.84 1072.09,249.19 1071.46,250.53 1070.85,251.88 1070.25,253.24 1069.66,254.60 1069.08,255.97 1068.51,257.34 1067.95,258.72 1067.41,260.10 1066.87,261.49 1066.34,262.88 1065.82,264.27 1065.30,265.67 1064.80,267.07 1064.30,268.48 1063.81,269.89 1063.33,271.30 1062.85,272.72 1062.38,274.14 1061.92,275.57 1061.46,276.99 1061.00,278.42 1060.56,279.86 1060.11,281.29 1059.67,282.73 1059.24,284.17 1058.80,285.61 1058.38,287.05 1057.95,288.50 1057.53,289.95 1057.11,291.39 1056.69,292.84 1056.27,294.30 1055.85,295.75 1055.44,297.20 1055.03,298.66 1054.61,300.11 1054.20,301.57 1053.78,303.03 1053.37,304.48 1052.95,305.94 1052.54,307.40 1052.12,308.85 1051.70,310.31 1051.29,311.77 1050.87,313.23 1050.44,314.68 1050.02,316.14 1049.60,317.59 1049.17,319.05 1048.74,320.50 1048.31,321.95 1047.87,323.41 1047.43,324.86 1046.99,326.30 1046.55,327.75 1046.10,329.20 1045.65,330.64 1045.19,332.08 1044.73,333.52 1044.27,334.96 1043.80,336.40 1043.32,337.83 1042.85,339.26 1042.36,340.69 1041.87,342.12 1041.38,343.54 1040.88,344.96 1040.37,346.38 1039.86,347.79 1039.35,349.20 1038.82,350.61 1038.29,352.02 1037.75,353.42 1037.21,354.81 1036.66,356.21 1036.10,357.60 1035.53,358.98 1034.96,360.36 1034.38,361.74 1033.78,363.11 1033.19,364.48 1032.58,365.84 1031.96,367.20 1031.34,368.55 1030.70,369.90 1030.06,371.24 1029.41,372.58 1028.75,373.91 1028.08,375.24 1027.40,376.57 1026.72,377.89 1026.02,379.20 1025.32,380.51 1024.61,381.82 1023.90,383.12 1023.17,384.42 1022.44,385.71 1021.70,387.00 1020.95,388.29 1020.20,389.57 1019.44,390.85 1018.67,392.12 1017.90,393.40 1017.12,394.66 1016.33,395.93 1015.54,397.19 1014.74,398.45 1013.94,399.70 1013.13,400.95 1012.31,402.20 1011.49,403.45 1010.67,404.69 1009.84,405.93 1009.00,407.17 1008.16,408.40 1007.31,409.63 1006.46,410.86 1005.61,412.09 1004.75,413.31 1003.89,414.53 1003.02,415.76 1002.15,416.97 1001.28,418.19 1000.40,419.40 999.52,420.62 998.63,421.83 997.75,423.04 996.86,424.24 995.96,425.45 995.07,426.65 994.17,427.86 993.27,429.06 992.37,430.26 991.46,431.46 990.56,432.66 989.65,433.86 988.74,435.05 987.83,436.25 986.91,437.44 986.00,438.64 985.08,439.83 984.17,441.03 983.25,442.22 982.33,443.41 981.41,444.60 980.50,445.80 979.58,446.99 978.66,448.18 977.74,449.38 976.82,450.57 975.90,451.76 974.99,452.95 974.07,454.15 973.15,455.34 972.24,456.54 971.32,457.73 970.41,458.93 969.50,460.13 968.59,461.32 967.68,462.52 966.77,463.72 965.87,464.92 964.97,466.13 964.07,467.33 963.17,468.54 962.27,469.74 961.38,470.95 960.49,472.16 959.60,473.37 958.72,474.58 957.84,475.80 956.96,477.02 956.09,478.24 955.22,479.46 954.35,480.68 953.49,481.91 952.63,483.13 951.78,484.36 950.93,485.60 950.09,486.83 949.25,488.07 948.41,489.31 947.58,490.55 946.76,491.80 945.94,493.05 945.12,494.30 944.31,495.56 943.51,496.82 942.71,498.08 941.92,499.34 941.13,500.61 940.36,501.89 939.58,503.16 938.82,504.44 938.06,505.73 937.30,507.01 936.56,508.30 935.82,509.60 935.09,510.90" fill="none" stroke="#ff0000" stroke-width="4.4" stroke-linecap="round" stroke-linejoin="round"/>
<path d="M137.57,511.03 L137.78,509.52 138.01,508.01 138.24,506.50 138.48,505.00 138.73,503.50 138.99,502.00 139.25,500.51 139.52,499.02 139.80,497.54 140.09,496.05 140.38,494.57 140.68,493.10 140.98,491.62 141.30,490.15 141.62,488.69 141.94,487.22 142.28,485.76 142.61,484.30 142.96,482.84 143.31,481.39 143.66,479.93 144.03,478.48 144.39,477.03 144.76,475.59 145.14,474.14 145.52,472.70 145.91,471.26 146.30,469.82 146.70,468.38 147.10,466.95 147.51,465.51 147.92,464.08 148.33,462.65 148.75,461.22 149.17,459.79 149.60,458.36 150.02,456.94 150.46,455.51 150.89,454.08 151.33,452.66 151.77,451.24 152.22,449.81 152.67,448.39 153.12,446.97 153.57,445.55 154.03,444.13 154.48,442.71 154.94,441.28 155.40,439.86 155.87,438.44 156.33,437.02 156.80,435.60 157.27,434.18 157.74,432.76 158.21,431.33 158.68,429.91 159.15,428.49 159.63,427.06 160.10,425.64 160.58,424.21 161.05,422.79 161.53,421.36 162.01,419.94 162.49,418.51 162.97,417.08 163.46,415.66 163.94,414.23 164.43,412.81 164.92,411.38 165.42,409.96 165.91,408.53 166.41,407.11 166.91,405.69 167.42,404.27 167.92,402.84 168.43,401.42 168.95,400.01 169.46,398.59 169.99,397.17 170.51,395.76 171.04,394.35 171.57,392.93 172.11,391.52 172.65,390.12 173.19,388.71 173.74,387.31 174.29,385.90 174.85,384.50 175.42,383.11 175.99,381.71 176.56,380.32 177.14,378.93 177.72,377.54 178.31,376.16 178.91,374.78 179.51,373.40 180.12,372.02 180.73,370.65 181.35,369.28 181.98,367.92 182.61,366.55 183.25,365.20 183.89,363.84 184.55,362.49 185.21,361.14 185.87,359.80 186.55,358.46 187.23,357.12 187.92,355.79 188.62,354.46 189.32,353.14 190.03,351.82 190.75,350.51 191.48,349.20 192.22,347.90 192.96,346.60 193.72,345.30 194.48,344.02 195.25,342.73 196.02,341.45 196.81,340.18 197.60,338.91 198.40,337.65 199.21,336.39 200.03,335.14 200.86,333.89 201.69,332.65 202.53,331.41 203.38,330.18 204.24,328.96 205.11,327.74 205.98,326.53 206.86,325.32 207.75,324.12 208.65,322.93 209.56,321.74 210.47,320.56 211.39,319.39 212.32,318.22 213.26,317.06 214.21,315.90 215.16,314.75 216.12,313.61 217.10,312.48 218.07,311.35 219.06,310.23 220.05,309.11 221.06,308.01 222.07,306.91 223.09,305.82 224.11,304.73 225.15,303.66 226.19,302.59 227.24,301.52 228.30,300.47 229.36,299.42 230.44,298.38 231.52,297.35 232.61,296.33 233.71,295.32 234.82,294.31 235.93,293.31 237.05,292.32 238.18,291.34 239.32,290.36 240.47,289.40 241.62,288.44 242.79,287.49 243.96,286.56 245.13,285.62 246.32,284.70 247.51,283.79 248.72,282.89 249.93,281.99 251.15,281.11 252.37,280.23 253.60,279.36 254.85,278.50 256.09,277.66 257.35,276.82 258.61,275.99 259.88,275.18 261.16,274.37 262.45,273.58 263.74,272.79 265.04,272.02 266.34,271.26 267.65,270.51 268.97,269.77 270.29,269.04 271.62,268.33 272.96,267.62 274.30,266.93 275.65,266.26 277.00,265.59 278.36,264.94 279.73,264.30 281.10,263.67 282.47,263.06 283.85,262.46 285.24,261.88 286.63,261.31 288.03,260.75 289.43,260.21 290.83,259.68 292.24,259.17 293.66,258.67 295.08,258.19 296.50,257.72 297.93,257.26 299.36,256.81 300.79,256.38 302.23,255.96 303.67,255.55 305.11,255.16 306.56,254.77 308.01,254.40 309.47,254.03 310.92,253.68 312.38,253.33 313.84,252.99 315.31,252.67 316.77,252.35 318.24,252.04 319.71,251.74 321.19,251.44 322.66,251.15 324.13,250.87 325.61,250.60 327.09,250.33 328.57,250.07 330.05,249.81 331.53,249.56 333.01,249.31 334.50,249.07 335.98,248.83 337.46,248.59 338.95,248.36 340.43,248.13 341.91,247.91 343.40,247.68 344.88,247.47 346.37,247.25 347.85,247.04 349.34,246.83 350.83,246.63 352.31,246.42 353.80,246.23 355.29,246.03 356.77,245.84 358.26,245.65 359.75,245.46 361.24,245.28 362.73,245.10 364.22,244.93 365.71,244.75 367.20,244.58 368.68,244.41 370.17,244.25 371.67,244.09 373.16,243.93 374.65,243.77 376.14,243.62 377.63,243.47 379.12,243.32 380.61,243.17 382.10,243.03 383.60,242.89 385.09,242.75 386.58,242.62 388.08,242.49 389.57,242.36 391.06,242.23 392.56,242.10 394.05,241.98 395.54,241.86 397.04,241.74 398.53,241.63 400.03,241.51 401.52,241.40 403.02,241.29 404.51,241.19 406.01,241.08 407.50,240.98 409.00,240.88 410.50,240.78 411.99,240.68 413.49,240.59 414.99,240.50 416.48,240.41 417.98,240.32 419.48,240.23 420.97,240.15 422.47,240.06 423.97,239.98 425.47,239.90 426.97,239.82 428.46,239.75 429.96,239.67 431.46,239.60 432.96,239.53 434.46,239.46 435.96,239.39 437.46,239.32 438.96,239.26 440.45,239.19 441.95,239.13 443.45,239.07 444.95,239.01 446.45,238.95 447.95,238.89 449.45,238.84 450.95,238.78 452.45,238.73 453.95,238.67 455.45,238.62 456.95,238.57 458.46,238.52 459.96,238.47 461.46,238.43 462.96,238.38 464.46,238.33 465.96,238.29 467.46,238.24 468.96,238.20 470.46,238.16 471.96,238.12 473.47,238.08 474.97,238.04 476.47,238.00 477.97,237.96 479.47,237.92 480.97,237.88 482.48,237.84 483.98,237.81 485.48,237.77 486.98,237.73 488.48,237.70 489.98,237.66 491.49,237.63 492.99,237.59 494.49,237.56 495.99,237.53 497.49,237.49 499.00,237.46 500.50,237.43 502.00,237.39 503.50,237.36 505.00,237.33 506.51,237.29 508.01,237.26 509.51,237.23 511.01,237.19 512.51,237.16 514.02,237.13 515.52,237.09 517.02,237.06 518.52,237.03 520.02,236.99 521.53,236.96 523.03,236.92 524.53,236.89 526.03,236.85 527.53,236.82 529.03,236.78 530.54,236.74 532.04,236.71 533.54,236.67 535.04,236.63 536.54,236.60 538.04,236.56 539.55,236.52 541.05,236.48 542.55,236.44 544.05,236.41 545.55,236.37 547.05,236.33 548.55,236.29 550.05,236.25 551.56,236.21 553.06,236.17 554.56,236.14 556.06,236.10 557.56,236.06 559.06,236.02 560.56,235.98 562.06,235.94 563.56,235.90 565.07,235.86 566.57,235.82 568.07,235.78 569.57,235.74 571.07,235.70 572.57,235.66 574.07,235.62 575.57,235.58 577.07,235.54 578.57,235.50 580.07,235.46 581.58,235.42 583.08,235.38 584.58,235.35 586.08,235.31 587.58,235.27 589.08,235.23 590.58,235.19 592.08,235.15 593.58,235.11 595.08,235.07 596.58,235.03 598.08,235.00 599.58,234.96 601.08,234.92 602.58,234.88 604.08,234.84 605.59,234.81 607.09,234.77 608.59,234.73 610.09,234.70 611.59,234.66 613.09,234.62 614.59,234.59 616.09,234.55 617.59,234.52 619.09,234.48 620.59,234.44 622.09,234.41 623.59,234.38 625.09,234.34 626.59,234.31 628.09,234.27 629.59,234.24 631.09,234.21 632.59,234.18 634.09,234.14 635.59,234.11 637.09,234.08 638.59,234.05 640.09,234.02 641.59,233.99 643.09,233.96 644.59,233.93 646.10,233.90 647.60,233.87 649.10,233.85 650.60,233.82 652.10,233.79 653.60,233.77 655.10,233.74 656.60,233.72 658.10,233.69 659.60,233.67 661.10,233.64 662.60,233.62 664.10,233.60 665.60,233.57 667.10,233.55 668.60,233.53 670.10,233.51 671.60,233.49 673.10,233.47 674.60,233.45 676.10,233.43 677.60,233.42 679.10,233.40 680.60,233.38 682.10,233.37 683.60,233.35 685.10,233.34 686.60,233.33 688.10,233.31 689.60,233.30 691.10,233.29 692.60,233.28 694.11,233.27 695.61,233.26 697.11,233.25 698.61,233.25 700.11,233.24 701.61,233.23 703.11,233.23 704.61,233.22 706.11,233.22 707.61,233.22 709.11,233.21 710.61,233.21 712.11,233.21 713.61,233.21 715.11,233.21 716.61,233.21 718.11,233.22 719.61,233.22 721.11,233.22 722.62,233.23 724.12,233.23 725.62,233.24 727.12,233.24 728.62,233.25 730.12,233.25 731.62,233.26 733.12,233.27 734.62,233.27 736.12,233.28 737.62,233.29 739.12,233.30 740.62,233.31 742.13,233.32 743.63,233.33 745.13,233.33 746.63,233.34 748.13,233.35 749.63,233.36 751.13,233.37 752.63,233.38 754.13,233.39 755.63,233.40 757.14,233.41 758.64,233.42 760.14,233.43 761.64,233.44 763.14,233.45 764.64,233.46 766.14,233.47 767.64,233.48 769.14,233.49 770.65,233.49 772.15,233.50 773.65,233.51 775.15,233.52 776.65,233.52 778.15,233.53 779.65,233.54 781.15,233.54 782.66,233.55 784.16,233.55 785.66,233.56 787.16,233.56 788.66,233.56 790.16,233.57 791.66,233.57 793.17,233.57 794.67,233.57 796.17,233.57 797.67,233.57 799.17,233.57 800.67,233.57 802.18,233.56 803.68,233.56 805.18,233.55 806.68,233.55 808.18,233.54 809.68,233.53 811.19,233.52 812.69,233.52 814.19,233.50 815.69,233.49 817.19,233.48 818.70,233.47 820.20,233.45 821.70,233.44 823.20,233.42 824.70,233.40 826.21,233.38 827.71,233.36 829.21,233.34 830.71,233.32 832.21,233.29 833.72,233.26 835.22,233.24 836.72,233.21 838.22,233.18 839.73,233.15 841.23,233.11 842.73,233.08 844.23,233.04 845.74,233.00 847.24,232.97 848.74,232.92 850.24,232.88 851.75,232.84 853.25,232.79 854.75,232.74 856.25,232.70 857.76,232.64 859.26,232.59 860.76,232.54 862.26,232.48 863.77,232.42 865.27,232.36 866.77,232.30 868.28,232.24 869.78,232.17 871.28,232.10 872.78,232.03 874.29,231.96 875.79,231.88 877.29,231.81 878.79,231.73 880.30,231.64 881.80,231.55 883.30,231.46 884.80,231.37 886.30,231.27 887.80,231.17 889.30,231.07 890.80,230.96 892.30,230.85 893.80,230.73 895.29,230.61 896.79,230.48 898.29,230.35 899.78,230.21 901.27,230.07 902.77,229.92 904.26,229.77 905.75,229.61 907.24,229.45 908.73,229.27 910.22,229.10 911.70,228.91 913.19,228.72 914.67,228.53 916.15,228.32 917.63,228.11 919.11,227.90 920.59,227.67 922.07,227.44 923.54,227.20 925.02,226.95 926.49,226.70 927.96,226.43 929.43,226.16 930.89,225.88 932.36,225.59 933.82,225.29 935.28,224.99 936.74,224.67 938.20,224.34 939.65,224.01 941.11,223.67 942.56,223.31 944.00,222.95 945.45,222.57 946.89,222.19 948.34,221.80 949.78,221.39 951.21,220.97 952.65,220.55 954.08,220.11 955.51,219.66 956.93,219.20 958.36,218.73 959.78,218.25 961.20,217.75 962.61,217.24 964.02,216.73 965.43,216.20 966.84,215.66 968.25,215.11 969.65,214.56 971.05,213.99 972.45,213.42 973.85,212.84 975.24,212.25 976.63,211.66 978.02,211.06 979.41,210.46 980.79,209.85 982.18,209.24 983.56,208.62 984.94,208.00 986.32,207.38 987.69,206.75 989.07,206.13 990.44,205.50 991.81,204.87 993.19,204.24 994.55,203.62 995.92,202.99 997.29,202.37 998.66,201.74 1000.02,201.12 1001.38,200.51 1002.75,199.89 1004.11,199.28 1005.47,198.68 1006.83,198.09 1008.20,197.51 1009.58,196.95 1010.97,196.41 1012.36,195.90 1013.77,195.41 1015.19,194.96 1016.63,194.54 1018.09,194.15 1019.57,193.81 1021.07,193.51 1022.60,193.27 1024.15,193.07 1025.74,192.93 1027.35,192.85 1028.98,192.83 1030.60,192.90 1032.17,193.07 1033.64,193.35 1034.99,193.77 1036.16,194.35 1037.12,195.09 1037.84,196.02 1038.26,197.16 1038.40,198.49 1038.31,199.96 1038.02,201.51 1037.59,203.10 1037.06,204.67 1036.47,206.20 1035.83,207.68 1035.13,209.12 1034.39,210.52 1033.61,211.89 1032.80,213.23 1031.96,214.54 1031.10,215.83 1030.22,217.11 1029.32,218.37 1028.43,219.62 1027.53,220.87 1026.64,222.11 1025.76,223.36 1024.89,224.61 1024.05,225.87 1023.22,227.14 1022.42,228.42 1021.64,229.71 1020.87,231.01 1020.13,232.32 1019.40,233.63 1018.68,234.95 1017.98,236.28 1017.30,237.61 1016.63,238.95 1015.97,240.30 1015.32,241.65 1014.69,243.01 1014.06,244.37 1013.45,245.74 1012.84,247.11 1012.24,248.48 1011.65,249.86 1011.06,251.24 1010.48,252.62 1009.91,254.00 1009.34,255.39 1008.77,256.77 1008.20,258.16 1007.64,259.55 1007.07,260.93 1006.51,262.32 1005.94,263.71 1005.38,265.09 1004.81,266.48 1004.23,267.86 1003.66,269.24 1003.08,270.62 1002.50,271.99 1001.91,273.37 1001.33,274.74 1000.74,276.12 1000.15,277.49 999.55,278.86 998.96,280.24 998.37,281.61 997.77,282.98 997.17,284.35 996.58,285.72 995.98,287.09 995.38,288.46 994.78,289.83 994.18,291.20 993.58,292.57 992.98,293.94 992.39,295.31 991.79,296.68 991.20,298.05 990.60,299.43 990.01,300.80 989.42,302.18 988.83,303.56 988.24,304.94 987.65,306.32 987.07,307.70 986.49,309.08 985.91,310.47 985.34,311.86 984.76,313.25 984.19,314.64 983.62,316.03 983.05,317.42 982.49,318.81 981.92,320.21 981.36,321.61 980.80,323.00 980.23,324.40 979.67,325.80 979.11,327.20 978.55,328.60 978.00,330.00 977.44,331.40 976.88,332.80 976.32,334.20 975.76,335.61 975.20,337.01 974.64,338.41 974.08,339.81 973.52,341.21 972.96,342.61 972.40,344.01 971.84,345.41 971.27,346.81 970.70,348.21 970.14,349.61 969.57,351.00 968.99,352.40 968.42,353.79 967.84,355.19 967.27,356.58 966.68,357.97 966.10,359.36 965.51,360.74 964.92,362.13 964.33,363.51 963.74,364.90 963.14,366.28 962.53,367.66 961.93,369.03 961.32,370.41 960.70,371.78 960.08,373.15 959.46,374.52 958.83,375.88 958.20,377.24 957.57,378.60 956.92,379.96 956.28,381.31 955.63,382.66 954.97,384.01 954.31,385.35 953.64,386.69 952.96,388.03 952.29,389.36 951.60,390.70 950.91,392.02 950.21,393.35 949.50,394.66 948.79,395.98 948.07,397.29 947.35,398.60 946.62,399.90 945.88,401.20 945.14,402.50 944.39,403.79 943.64,405.08 942.87,406.37 942.11,407.65 941.33,408.93 940.55,410.20 939.77,411.47 938.98,412.74 938.18,414.01 937.38,415.27 936.58,416.53 935.76,417.78 934.94,419.03 934.12,420.28 933.29,421.52 932.46,422.76 931.62,424.00 930.78,425.24 929.93,426.47 929.08,427.70 928.22,428.92 927.35,430.15 926.49,431.37 925.61,432.58 924.74,433.79 923.85,435.01 922.97,436.21 922.08,437.42 921.18,438.62 920.28,439.82 919.38,441.01 918.47,442.21 917.56,443.40 916.65,444.59 915.73,445.77 914.80,446.95 913.88,448.13 912.95,449.31 912.01,450.49 911.08,451.66 910.13,452.83 909.19,454.00 908.24,455.16 907.29,456.32 906.33,457.48 905.38,458.64 904.41,459.80 903.45,460.95 902.48,462.10 901.51,463.25 900.54,464.39 899.56,465.54 898.58,466.68 897.60,467.82 896.62,468.96 895.63,470.09 894.64,471.23 893.65,472.36 892.66,473.49 891.66,474.62 890.66,475.74 889.66,476.87 888.66,477.99 887.66,479.11 886.65,480.23 885.64,481.34 884.63,482.46 883.62,483.57 882.60,484.68 881.59,485.79 880.57,486.90 879.55,488.01 878.53,489.11 877.51,490.22 876.49,491.32 875.46,492.42 874.44,493.52 873.41,494.62 872.38,495.71 871.36,496.81 870.33,497.90 869.30,498.99 868.27,500.08 867.23,501.17 866.20,502.26 865.17,503.35 864.13,504.44 863.10,505.52 862.07,506.60 861.03,507.69 860.00,508.77 858.96,509.85 857.93,510.93" fill="none" stroke="#0000ff" stroke-width="4.3" stroke-linecap="round" stroke-linejoin="round" stroke-dasharray="11.80 17.40 0.01 17.15" stroke-dashoffset="45.70"/>
<path d="M137.42,510.96 L137.76,509.51 138.09,508.06 138.43,506.61 138.76,505.16 139.10,503.70 139.43,502.25 139.76,500.79 140.09,499.34 140.42,497.88 140.75,496.42 141.07,494.96 141.40,493.50 141.73,492.04 142.05,490.58 142.38,489.12 142.70,487.65 143.03,486.19 143.35,484.72 143.68,483.26 144.00,481.79 144.33,480.33 144.65,478.86 144.97,477.40 145.30,475.93 145.62,474.46 145.95,472.99 146.27,471.53 146.60,470.06 146.92,468.59 147.25,467.12 147.58,465.65 147.90,464.18 148.23,462.72 148.56,461.25 148.89,459.78 149.22,458.31 149.55,456.84 149.89,455.37 150.22,453.90 150.55,452.43 150.89,450.96 151.23,449.50 151.57,448.03 151.91,446.56 152.25,445.09 152.59,443.63 152.94,442.16 153.28,440.69 153.63,439.23 153.98,437.76 154.34,436.30 154.69,434.83 155.05,433.37 155.41,431.91 155.77,430.44 156.13,428.98 156.49,427.52 156.86,426.06 157.23,424.60 157.60,423.14 157.98,421.69 158.36,420.23 158.74,418.77 159.12,417.32 159.51,415.86 159.89,414.41 160.29,412.96 160.68,411.51 161.08,410.06 161.48,408.61 161.88,407.16 162.29,405.72 162.70,404.27 163.12,402.83 163.53,401.39 163.95,399.94 164.38,398.50 164.81,397.07 165.24,395.63 165.68,394.19 166.12,392.76 166.56,391.33 167.01,389.90 167.46,388.47 167.92,387.04 168.38,385.62 168.84,384.19 169.31,382.77 169.78,381.35 170.26,379.93 170.74,378.51 171.23,377.10 171.72,375.69 172.22,374.27 172.72,372.87 173.22,371.46 173.73,370.05 174.25,368.65 174.77,367.25 175.30,365.85 175.83,364.45 176.37,363.06 176.91,361.67 177.45,360.28 178.01,358.89 178.56,357.51 179.13,356.12 179.69,354.74 180.27,353.36 180.85,351.98 181.43,350.61 182.02,349.24 182.61,347.87 183.21,346.50 183.81,345.13 184.42,343.76 185.03,342.40 185.65,341.04 186.27,339.68 186.89,338.32 187.52,336.96 188.16,335.61 188.80,334.25 189.44,332.90 190.09,331.55 190.74,330.20 191.40,328.85 192.06,327.51 192.73,326.16 193.40,324.82 194.07,323.48 194.75,322.14 195.43,320.80 196.11,319.46 196.80,318.12 197.49,316.78 198.19,315.45 198.89,314.12 199.59,312.78 200.30,311.45 201.01,310.12 201.73,308.79 202.45,307.46 203.17,306.13 203.89,304.81 204.62,303.48 205.36,302.16 206.09,300.83 206.84,299.51 207.58,298.20 208.34,296.88 209.09,295.57 209.86,294.26 210.62,292.96 211.40,291.66 212.18,290.36 212.97,289.07 213.76,287.78 214.56,286.50 215.37,285.23 216.18,283.96 217.01,282.69 217.84,281.44 218.68,280.19 219.52,278.94 220.38,277.70 221.24,276.48 222.12,275.25 223.00,274.04 223.89,272.84 224.80,271.64 225.71,270.45 226.63,269.27 227.56,268.11 228.51,266.95 229.46,265.80 230.43,264.66 231.40,263.53 232.39,262.42 233.39,261.31 234.40,260.22 235.43,259.14 236.46,258.07 237.51,257.01 238.58,255.97 239.65,254.93 240.74,253.92 241.84,252.91 242.95,251.92 244.08,250.94 245.21,249.97 246.36,249.02 247.52,248.08 248.69,247.15 249.88,246.24 251.07,245.34 252.27,244.45 253.49,243.57 254.71,242.71 255.94,241.86 257.18,241.03 258.44,240.21 259.70,239.40 260.97,238.60 262.25,237.82 263.53,237.05 264.83,236.30 266.13,235.56 267.45,234.83 268.76,234.11 270.09,233.41 271.43,232.73 272.77,232.05 274.11,231.39 275.47,230.74 276.83,230.11 278.19,229.49 279.56,228.89 280.94,228.30 282.32,227.72 283.71,227.15 285.11,226.60 286.50,226.07 287.90,225.54 289.31,225.04 290.72,224.54 292.14,224.06 293.55,223.59 294.98,223.14 296.40,222.70 297.83,222.27 299.26,221.85 300.70,221.45 302.14,221.05 303.58,220.67 305.02,220.30 306.47,219.94 307.92,219.59 309.38,219.25 310.83,218.93 312.29,218.61 313.76,218.30 315.22,218.00 316.69,217.71 318.16,217.42 319.63,217.15 321.10,216.88 322.58,216.62 324.06,216.37 325.54,216.12 327.02,215.88 328.50,215.65 329.99,215.43 331.48,215.21 332.97,214.99 334.46,214.78 335.95,214.58 337.44,214.38 338.93,214.18 340.43,213.99 341.93,213.81 343.42,213.62 344.92,213.44 346.42,213.26 347.92,213.09 349.42,212.91 350.92,212.74 352.42,212.57 353.92,212.41 355.42,212.24 356.93,212.07 358.43,211.91 359.93,211.74 361.43,211.58 362.93,211.41 364.44,211.25 365.94,211.08 367.44,210.91 368.94,210.74 370.44,210.57 371.94,210.40 373.44,210.23 374.94,210.06 376.44,209.88 377.93,209.71 379.43,209.53 380.93,209.36 382.43,209.18 383.92,209.00 385.42,208.83 386.92,208.65 388.41,208.47 389.91,208.29 391.40,208.11 392.90,207.94 394.40,207.76 395.89,207.58 397.39,207.40 398.88,207.23 400.37,207.05 401.87,206.88 403.36,206.70 404.86,206.53 406.35,206.35 407.84,206.18 409.34,206.01 410.83,205.84 412.32,205.67 413.82,205.50 415.31,205.33 416.80,205.17 418.29,205.00 419.79,204.84 421.28,204.68 422.77,204.52 424.26,204.36 425.76,204.21 427.25,204.05 428.74,203.90 430.23,203.75 431.73,203.61 433.22,203.46 434.71,203.32 436.20,203.18 437.70,203.04 439.19,202.90 440.68,202.77 442.17,202.64 443.67,202.51 445.16,202.39 446.65,202.27 448.15,202.15 449.64,202.04 451.13,201.93 452.62,201.82 454.12,201.71 455.61,201.61 457.11,201.51 458.60,201.42 460.09,201.33 461.59,201.24 463.08,201.16 464.58,201.08 466.07,201.00 467.57,200.93 469.06,200.86 470.56,200.79 472.05,200.73 473.55,200.67 475.05,200.61 476.54,200.56 478.04,200.51 479.53,200.46 481.03,200.41 482.53,200.37 484.03,200.33 485.52,200.29 487.02,200.26 488.52,200.22 490.01,200.19 491.51,200.17 493.01,200.14 494.51,200.12 496.01,200.09 497.50,200.07 499.00,200.06 500.50,200.04 502.00,200.02 503.50,200.01 505.00,200.00 506.50,199.99 507.99,199.98 509.49,199.98 510.99,199.97 512.49,199.97 513.99,199.96 515.49,199.96 516.99,199.96 518.49,199.96 519.99,199.96 521.49,199.96 522.99,199.97 524.49,199.97 525.99,199.97 527.49,199.98 528.99,199.98 530.49,199.99 531.99,200.00 533.50,200.00 535.00,200.01 536.50,200.01 538.00,200.02 539.50,200.03 541.00,200.03 542.50,200.04 544.00,200.05 545.51,200.05 547.01,200.06 548.51,200.06 550.01,200.07 551.51,200.07 553.01,200.07 554.52,200.08 556.02,200.08 557.52,200.08 559.02,200.08 560.52,200.08 562.03,200.08 563.53,200.07 565.03,200.07 566.53,200.06 568.03,200.06 569.54,200.05 571.04,200.04 572.54,200.03 574.04,200.01 575.55,200.00 577.05,199.98 578.55,199.96 580.05,199.94 581.56,199.92 583.06,199.90 584.56,199.87 586.07,199.84 587.57,199.81 589.07,199.78 590.57,199.74 592.08,199.70 593.58,199.66 595.08,199.62 596.58,199.57 598.09,199.52 599.59,199.47 601.09,199.41 602.60,199.36 604.10,199.30 605.60,199.23 607.10,199.17 608.61,199.10 610.11,199.03 611.61,198.96 613.11,198.88 614.62,198.81 616.12,198.73 617.62,198.64 619.13,198.56 620.63,198.47 622.13,198.39 623.63,198.30 625.13,198.20 626.64,198.11 628.14,198.01 629.64,197.92 631.14,197.82 632.65,197.71 634.15,197.61 635.65,197.51 637.15,197.40 638.65,197.29 640.15,197.18 641.66,197.07 643.16,196.96 644.66,196.85 646.16,196.73 647.66,196.62 649.16,196.50 650.66,196.38 652.16,196.26 653.67,196.14 655.17,196.02 656.67,195.90 658.17,195.78 659.67,195.65 661.17,195.53 662.67,195.40 664.17,195.28 665.67,195.15 667.17,195.02 668.67,194.89 670.17,194.77 671.67,194.64 673.16,194.51 674.66,194.38 676.16,194.25 677.66,194.12 679.16,193.99 680.66,193.86 682.16,193.73 683.65,193.60 685.15,193.47 686.65,193.34 688.15,193.21 689.64,193.08 691.14,192.95 692.64,192.82 694.14,192.69 695.63,192.56 697.13,192.43 698.62,192.31 700.12,192.18 701.62,192.05 703.11,191.93 704.61,191.80 706.10,191.68 707.60,191.55 709.09,191.43 710.59,191.31 712.08,191.19 713.58,191.07 715.07,190.95 716.56,190.83 718.06,190.71 719.55,190.60 721.04,190.48 722.53,190.37 724.03,190.26 725.52,190.15 727.01,190.04 728.50,189.93 729.99,189.83 731.48,189.72 732.98,189.62 734.47,189.52 735.96,189.42 737.45,189.32 738.94,189.23 740.43,189.13 741.91,189.04 743.40,188.95 744.89,188.86 746.38,188.78 747.87,188.69 749.36,188.61 750.84,188.53 752.33,188.46 753.82,188.38 755.30,188.31 756.79,188.24 758.28,188.17 759.76,188.11 761.25,188.04 762.73,187.98 764.22,187.93 765.70,187.87 767.18,187.82 768.67,187.77 770.15,187.73 771.63,187.69 773.12,187.65 774.60,187.61 776.08,187.58 777.56,187.55 779.04,187.52 780.52,187.49 782.00,187.47 783.48,187.46 784.96,187.44 786.44,187.43 787.92,187.43 789.40,187.42 790.88,187.42 792.37,187.42 793.85,187.43 795.34,187.44 796.82,187.46 798.31,187.48 799.80,187.50 801.30,187.52 802.79,187.55 804.29,187.59 805.80,187.62 807.30,187.67 808.81,187.71 810.33,187.76 811.85,187.81 813.37,187.87 814.90,187.93 816.43,188.00 817.97,188.07 819.51,188.14 821.06,188.22 822.61,188.31 824.18,188.39 825.74,188.48 827.32,188.58 828.90,188.68 830.49,188.79 832.08,188.90 833.67,189.02 835.27,189.16 836.86,189.31 838.45,189.47 840.04,189.66 841.61,189.87 843.18,190.10 844.73,190.37 846.27,190.66 847.78,190.98 849.28,191.35 850.76,191.75 852.21,192.19 853.63,192.67 855.03,193.20 856.39,193.78 857.72,194.41 859.02,195.09 860.27,195.83 861.49,196.63 862.66,197.49 863.78,198.40 864.86,199.36 865.89,200.38 866.86,201.44 867.77,202.56 868.62,203.71 869.41,204.92 870.13,206.16 870.78,207.44 871.36,208.76 871.86,210.11 872.29,211.49 872.65,212.90 872.94,214.34 873.16,215.79 873.31,217.27 873.40,218.76 873.42,220.26 873.38,221.77 873.28,223.28 873.12,224.80 872.91,226.31 872.64,227.81 872.32,229.31 871.94,230.80 871.52,232.28 871.06,233.75 870.55,235.22 870.01,236.67 869.43,238.11 868.82,239.55 868.18,240.97 867.51,242.39 866.82,243.80 866.10,245.20 865.37,246.58 864.63,247.96 863.87,249.33 863.11,250.69 862.34,252.04 861.57,253.38 860.79,254.71 860.01,256.04 859.22,257.35 858.44,258.66 857.65,259.96 856.85,261.25 856.06,262.54 855.26,263.81 854.47,265.09 853.67,266.36 852.87,267.62 852.06,268.88 851.26,270.14 850.46,271.39 849.65,272.64 848.85,273.88 848.04,275.12 847.24,276.36 846.43,277.60 845.63,278.84 844.82,280.08 844.02,281.32 843.22,282.55 842.42,283.79 841.62,285.03 840.82,286.27 840.03,287.51 839.23,288.75 838.44,290.00 837.65,291.25 836.87,292.50 836.09,293.75 835.31,295.01 834.53,296.27 833.75,297.53 832.98,298.80 832.21,300.07 831.45,301.34 830.68,302.62 829.92,303.90 829.16,305.18 828.41,306.46 827.65,307.74 826.90,309.03 826.15,310.32 825.41,311.62 824.67,312.91 823.93,314.21 823.19,315.51 822.45,316.82 821.72,318.12 820.99,319.43 820.27,320.74 819.55,322.05 818.82,323.37 818.11,324.68 817.39,326.00 816.68,327.32 815.97,328.65 815.26,329.97 814.56,331.30 813.86,332.63 813.16,333.96 812.47,335.30 811.77,336.63 811.08,337.97 810.40,339.31 809.71,340.65 809.03,341.99 808.35,343.34 807.68,344.68 807.00,346.03 806.33,347.38 805.67,348.73 805.00,350.08 804.34,351.44 803.68,352.79 803.03,354.15 802.37,355.51 801.72,356.87 801.08,358.23 800.43,359.59 799.79,360.95 799.15,362.32 798.52,363.69 797.89,365.05 797.26,366.42 796.63,367.79 796.00,369.16 795.38,370.54 794.77,371.91 794.15,373.28 793.54,374.66 792.93,376.03 792.32,377.41 791.72,378.79 791.12,380.17 790.52,381.55 789.92,382.93 789.33,384.31 788.74,385.69 788.15,387.07 787.56,388.45 786.97,389.84 786.39,391.22 785.81,392.61 785.23,393.99 784.65,395.38 784.07,396.77 783.50,398.15 782.93,399.54 782.35,400.93 781.78,402.32 781.21,403.71 780.65,405.10 780.08,406.49 779.51,407.88 778.95,409.27 778.38,410.66 777.82,412.05 777.26,413.44 776.70,414.83 776.14,416.22 775.58,417.61 775.02,419.01 774.46,420.40 773.90,421.79 773.34,423.18 772.78,424.57 772.22,425.96 771.66,427.36 771.10,428.75 770.54,430.14 769.99,431.53 769.43,432.92 768.87,434.31 768.31,435.70 767.75,437.09 767.18,438.48 766.62,439.87 766.06,441.26 765.50,442.65 764.93,444.04 764.37,445.43 763.80,446.81 763.23,448.20 762.67,449.59 762.10,450.98 761.52,452.36 760.95,453.75 760.38,455.13 759.80,456.51 759.22,457.90 758.65,459.28 758.07,460.66 757.48,462.04 756.90,463.42 756.31,464.80 755.72,466.18 755.13,467.56 754.54,468.94 753.94,470.31 753.35,471.69 752.75,473.06 752.14,474.43 751.54,475.81 750.93,477.18 750.32,478.55 749.71,479.92 749.09,481.28 748.47,482.65 747.85,484.02 747.22,485.38 746.59,486.74 745.96,488.10 745.33,489.47 744.69,490.82 744.05,492.18 743.40,493.54 742.75,494.89 742.10,496.25 741.44,497.60 740.78,498.95 740.11,500.30 739.44,501.65 738.77,502.99 738.09,504.34 737.41,505.68 736.73,507.02 736.04,508.36 735.34,509.70 734.64,511.03" fill="none" stroke="#00b050" stroke-width="4.5" stroke-linecap="round" stroke-linejoin="round" stroke-dasharray="28.00 18.38" stroke-dashoffset="45.57"/>
<path d="M137.56,510.99 L137.84,509.53 138.12,508.06 138.40,506.59 138.68,505.13 138.96,503.66 139.23,502.19 139.51,500.72 139.78,499.25 140.06,497.78 140.33,496.31 140.61,494.84 140.88,493.37 141.15,491.89 141.43,490.42 141.70,488.95 141.97,487.48 142.24,486.00 142.51,484.53 142.79,483.06 143.06,481.58 143.33,480.11 143.60,478.63 143.87,477.16 144.14,475.68 144.41,474.21 144.68,472.73 144.96,471.25 145.23,469.78 145.50,468.30 145.77,466.83 146.05,465.35 146.32,463.87 146.59,462.40 146.87,460.92 147.14,459.44 147.41,457.96 147.69,456.49 147.97,455.01 148.24,453.53 148.52,452.06 148.80,450.58 149.08,449.10 149.35,447.63 149.63,446.15 149.91,444.67 150.20,443.20 150.48,441.72 150.76,440.24 151.05,438.77 151.33,437.29 151.62,435.81 151.91,434.34 152.20,432.86 152.49,431.39 152.78,429.91 153.07,428.44 153.36,426.96 153.66,425.49 153.95,424.02 154.25,422.54 154.55,421.07 154.85,419.60 155.15,418.12 155.46,416.65 155.76,415.18 156.07,413.71 156.38,412.24 156.69,410.77 157.00,409.30 157.31,407.83 157.63,406.36 157.95,404.89 158.27,403.42 158.59,401.96 158.91,400.49 159.24,399.02 159.56,397.56 159.89,396.09 160.22,394.63 160.56,393.17 160.89,391.70 161.23,390.24 161.57,388.78 161.91,387.32 162.26,385.86 162.61,384.40 162.96,382.94 163.31,381.48 163.66,380.02 164.02,378.57 164.38,377.11 164.74,375.66 165.11,374.20 165.47,372.75 165.84,371.30 166.22,369.85 166.59,368.40 166.97,366.95 167.35,365.50 167.74,364.05 168.13,362.61 168.52,361.16 168.91,359.72 169.31,358.27 169.71,356.83 170.11,355.39 170.52,353.95 170.92,352.51 171.34,351.07 171.75,349.63 172.17,348.20 172.59,346.76 173.02,345.33 173.45,343.90 173.88,342.46 174.32,341.03 174.76,339.61 175.21,338.18 175.65,336.75 176.11,335.33 176.56,333.91 177.03,332.49 177.49,331.07 177.96,329.65 178.44,328.23 178.92,326.82 179.40,325.40 179.89,323.99 180.38,322.58 180.88,321.17 181.39,319.77 181.90,318.36 182.41,316.96 182.93,315.56 183.45,314.16 183.98,312.77 184.52,311.37 185.06,309.98 185.61,308.59 186.16,307.20 186.72,305.82 187.29,304.44 187.86,303.05 188.44,301.68 189.02,300.30 189.61,298.93 190.21,297.55 190.81,296.19 191.42,294.82 192.04,293.45 192.66,292.09 193.29,290.73 193.93,289.38 194.58,288.02 195.23,286.67 195.89,285.33 196.55,283.98 197.23,282.64 197.91,281.30 198.60,279.96 199.29,278.63 200.00,277.30 200.71,275.97 201.43,274.64 202.16,273.32 202.89,272.00 203.64,270.69 204.39,269.37 205.15,268.07 205.92,266.76 206.70,265.46 207.49,264.16 208.28,262.86 209.08,261.57 209.90,260.28 210.72,258.99 211.55,257.71 212.39,256.43 213.24,255.16 214.10,253.89 214.97,252.63 215.85,251.38 216.74,250.14 217.64,248.90 218.56,247.67 219.48,246.46 220.42,245.25 221.36,244.06 222.32,242.87 223.29,241.71 224.27,240.55 225.27,239.41 226.28,238.29 227.30,237.18 228.33,236.09 229.38,235.01 230.44,233.96 231.52,232.92 232.61,231.90 233.71,230.91 234.83,229.93 235.97,228.98 237.12,228.04 238.28,227.14 239.46,226.25 240.66,225.39 241.87,224.56 243.10,223.75 244.34,222.97 245.60,222.21 246.87,221.47 248.15,220.76 249.45,220.07 250.76,219.40 252.09,218.75 253.42,218.12 254.77,217.52 256.13,216.93 257.49,216.36 258.87,215.82 260.26,215.28 261.66,214.77 263.06,214.28 264.48,213.80 265.90,213.33 267.33,212.89 268.76,212.45 270.21,212.03 271.65,211.63 273.11,211.24 274.56,210.86 276.03,210.49 277.49,210.14 278.96,209.80 280.43,209.46 281.91,209.14 283.39,208.83 284.87,208.53 286.35,208.23 287.83,207.94 289.31,207.67 290.79,207.39 292.27,207.13 293.76,206.88 295.24,206.63 296.73,206.39 298.21,206.15 299.70,205.92 301.18,205.70 302.67,205.49 304.16,205.28 305.65,205.08 307.14,204.89 308.63,204.70 310.12,204.52 311.61,204.35 313.10,204.18 314.59,204.01 316.08,203.85 317.58,203.70 319.07,203.55 320.56,203.41 322.06,203.28 323.55,203.14 325.05,203.02 326.54,202.89 328.04,202.78 329.53,202.66 331.03,202.55 332.52,202.45 334.02,202.35 335.52,202.25 337.02,202.16 338.51,202.07 340.01,201.98 341.51,201.90 343.01,201.82 344.51,201.75 346.01,201.67 347.51,201.60 349.01,201.53 350.51,201.47 352.01,201.41 353.51,201.35 355.01,201.29 356.51,201.24 358.01,201.18 359.51,201.13 361.01,201.08 362.51,201.03 364.01,200.99 365.51,200.94 367.01,200.90 368.52,200.85 370.02,200.81 371.52,200.77 373.02,200.73 374.52,200.69 376.02,200.65 377.52,200.61 379.02,200.58 380.53,200.54 382.03,200.50 383.53,200.46 385.03,200.42 386.53,200.38 388.03,200.34 389.53,200.30 391.03,200.26 392.53,200.22 394.03,200.18 395.53,200.14 397.03,200.10 398.53,200.06 400.03,200.02 401.53,199.98 403.03,199.94 404.53,199.90 406.03,199.86 407.53,199.81 409.03,199.77 410.53,199.73 412.03,199.69 413.53,199.65 415.03,199.61 416.53,199.57 418.03,199.52 419.53,199.48 421.03,199.44 422.53,199.40 424.03,199.36 425.52,199.32 427.02,199.27 428.52,199.23 430.02,199.19 431.52,199.15 433.02,199.11 434.52,199.06 436.02,199.02 437.52,198.98 439.02,198.94 440.51,198.90 442.01,198.86 443.51,198.82 445.01,198.77 446.51,198.73 448.01,198.69 449.51,198.65 451.01,198.61 452.50,198.57 454.00,198.53 455.50,198.49 457.00,198.45 458.50,198.41 460.00,198.37 461.50,198.33 462.99,198.29 464.49,198.25 465.99,198.21 467.49,198.17 468.99,198.13 470.49,198.10 471.99,198.06 473.48,198.02 474.98,197.98 476.48,197.94 477.98,197.91 479.48,197.87 480.98,197.83 482.48,197.80 483.97,197.76 485.47,197.72 486.97,197.69 488.47,197.65 489.97,197.62 491.47,197.58 492.97,197.55 494.47,197.52 495.96,197.48 497.46,197.45 498.96,197.42 500.46,197.38 501.96,197.35 503.46,197.32 504.96,197.29 506.46,197.26 507.96,197.23 509.46,197.20 510.95,197.17 512.45,197.14 513.95,197.11 515.45,197.08 516.95,197.05 518.45,197.02 519.95,196.99 521.45,196.97 522.95,196.94 524.45,196.91 525.95,196.89 527.45,196.86 528.95,196.83 530.45,196.81 531.95,196.78 533.45,196.76 534.95,196.73 536.45,196.71 537.95,196.69 539.44,196.66 540.94,196.64 542.44,196.62 543.94,196.60 545.44,196.57 546.94,196.55 548.44,196.53 549.94,196.51 551.44,196.49 552.94,196.47 554.44,196.45 555.94,196.43 557.44,196.41 558.94,196.39 560.44,196.37 561.94,196.35 563.44,196.34 564.95,196.32 566.45,196.30 567.95,196.28 569.45,196.27 570.95,196.25 572.45,196.23 573.95,196.22 575.45,196.20 576.95,196.19 578.45,196.17 579.95,196.16 581.45,196.14 582.95,196.13 584.45,196.11 585.95,196.10 587.45,196.09 588.95,196.07 590.45,196.06 591.95,196.05 593.45,196.04 594.95,196.03 596.45,196.01 597.95,196.00 599.46,195.99 600.96,195.98 602.46,195.97 603.96,195.96 605.46,195.95 606.96,195.94 608.46,195.93 609.96,195.92 611.46,195.91 612.96,195.90 614.46,195.90 615.96,195.89 617.46,195.88 618.96,195.87 620.47,195.86 621.97,195.86 623.47,195.85 624.97,195.84 626.47,195.84 627.97,195.83 629.47,195.83 630.97,195.82 632.47,195.81 633.97,195.81 635.47,195.80 636.98,195.80 638.48,195.80 639.98,195.79 641.48,195.79 642.98,195.78 644.48,195.78 645.98,195.78 647.48,195.77 648.98,195.77 650.48,195.77 651.99,195.76 653.49,195.76 654.99,195.76 656.49,195.76 657.99,195.76 659.49,195.76 660.99,195.75 662.49,195.75 663.99,195.75 665.49,195.75 667.00,195.75 668.50,195.75 670.00,195.75 671.50,195.75 673.00,195.75 674.50,195.75 676.00,195.75 677.50,195.75 679.00,195.75 680.50,195.76 682.01,195.76 683.51,195.76 685.01,195.76 686.51,195.76 688.01,195.76 689.51,195.77 691.01,195.77 692.51,195.77 694.01,195.77 695.51,195.78 697.02,195.78 698.52,195.78 700.02,195.79 701.52,195.79 703.02,195.79 704.52,195.80 706.02,195.80 707.52,195.81 709.02,195.81 710.52,195.82 712.02,195.82 713.53,195.83 715.03,195.83 716.53,195.84 718.03,195.84 719.53,195.85 721.03,195.85 722.53,195.86 724.03,195.86 725.53,195.87 727.03,195.88 728.53,195.88 730.03,195.89 731.54,195.90 733.04,195.90 734.54,195.91 736.04,195.92 737.54,195.92 739.04,195.93 740.54,195.94 742.04,195.94 743.54,195.95 745.04,195.96 746.54,195.97 748.04,195.97 749.54,195.98 751.04,195.99 752.55,196.00 754.05,196.01 755.55,196.02 757.05,196.02 758.55,196.03 760.05,196.04 761.55,196.05 763.05,196.06 764.55,196.07 766.05,196.08 767.55,196.09 769.05,196.09 770.55,196.10 772.05,196.11 773.55,196.12 775.05,196.13 776.55,196.14 778.05,196.15 779.55,196.16 781.05,196.17 782.55,196.18 784.05,196.19 785.55,196.20 787.05,196.21 788.55,196.22 790.05,196.23 791.55,196.24 793.05,196.25 794.55,196.26 796.05,196.27 797.55,196.28 799.05,196.29 800.55,196.30 802.05,196.31 803.55,196.33 805.05,196.34 806.55,196.35 808.05,196.36 809.55,196.37 811.05,196.38 812.55,196.39 814.05,196.40 815.55,196.41 817.05,196.42 818.55,196.43 820.05,196.45 821.55,196.46 823.05,196.47 824.55,196.48 826.05,196.49 827.55,196.50 829.04,196.51 830.54,196.52 832.04,196.53 833.54,196.55 835.04,196.56 836.54,196.57 838.04,196.58 839.54,196.59 841.04,196.60 842.54,196.61 844.04,196.63 845.54,196.64 847.03,196.65 848.53,196.66 850.03,196.67 851.53,196.68 853.03,196.69 854.53,196.70 856.03,196.72 857.53,196.73 859.02,196.74 860.52,196.75 862.02,196.76 863.52,196.77 865.02,196.78 866.52,196.79 868.01,196.81 869.51,196.82 871.01,196.83 872.51,196.84 874.01,196.85 875.51,196.86 877.00,196.87 878.50,196.88 880.00,196.89 881.50,196.90 883.00,196.90 884.49,196.91 885.99,196.92 887.49,196.93 888.99,196.93 890.49,196.94 891.98,196.94 893.48,196.95 894.98,196.95 896.48,196.96 897.98,196.96 899.47,196.96 900.97,196.96 902.47,196.96 903.97,196.96 905.47,196.96 906.96,196.96 908.46,196.95 909.96,196.95 911.46,196.94 912.95,196.93 914.45,196.93 915.95,196.92 917.45,196.91 918.95,196.90 920.44,196.88 921.94,196.87 923.44,196.85 924.94,196.84 926.44,196.82 927.93,196.80 929.43,196.78 930.93,196.76 932.43,196.73 933.93,196.71 935.42,196.68 936.92,196.65 938.42,196.62 939.92,196.59 941.42,196.55 942.92,196.52 944.41,196.48 945.91,196.44 947.41,196.40 948.91,196.36 950.41,196.31 951.91,196.27 953.40,196.22 954.90,196.17 956.40,196.12 957.90,196.06 959.40,196.00 960.90,195.95 962.40,195.88 963.90,195.82 965.40,195.76 966.89,195.69 968.39,195.62 969.89,195.55 971.39,195.47 972.89,195.39 974.39,195.31 975.89,195.23 977.39,195.15 978.89,195.06 980.39,194.97 981.89,194.88 983.39,194.78 984.89,194.68 986.39,194.58 987.89,194.48 989.39,194.37 990.89,194.27 992.39,194.15 993.89,194.04 995.39,193.92 996.89,193.80 998.39,193.68 999.89,193.55 1001.39,193.42 1002.89,193.29 1004.39,193.16 1005.89,193.02 1007.40,192.88 1008.90,192.73 1010.40,192.58 1011.90,192.43 1013.40,192.28 1014.90,192.12 1016.40,191.96 1017.91,191.80 1019.41,191.64 1020.91,191.48 1022.41,191.32 1023.91,191.15 1025.41,190.99 1026.92,190.82 1028.42,190.66 1029.92,190.50 1031.42,190.33 1032.92,190.17 1034.43,190.01 1035.93,189.85 1037.43,189.69 1038.93,189.53 1040.43,189.38 1041.93,189.23 1043.43,189.08 1044.94,188.93 1046.44,188.79 1047.94,188.65 1049.44,188.52 1050.94,188.39 1052.44,188.26 1053.94,188.14 1055.44,188.02 1056.94,187.91 1058.44,187.80 1059.94,187.70 1061.44,187.61 1062.94,187.52 1064.44,187.44 1065.94,187.37 1067.44,187.30 1068.94,187.24 1070.44,187.19 1071.93,187.14 1073.43,187.11 1074.93,187.08 1076.43,187.06 1077.92,187.05 1079.42,187.05 1080.92,187.06 1082.41,187.07 1083.91,187.10 1085.41,187.14 1086.90,187.19 1088.40,187.25 1089.89,187.32 1091.39,187.40 1092.88,187.50 1094.37,187.61 1095.87,187.72 1097.36,187.85 1098.85,188.00 1100.34,188.16 1101.84,188.33 1103.33,188.51 1104.82,188.71 1106.31,188.92 1107.80,189.14 1109.29,189.38 1110.78,189.64 1112.27,189.91 1113.75,190.19 1115.24,190.50 1116.73,190.81 1118.22,191.15 1119.70,191.50 1121.18,191.88 1122.63,192.29 1124.06,192.74 1125.45,193.24 1126.80,193.80 1128.09,194.43 1129.32,195.13 1130.48,195.91 1131.56,196.78 1132.55,197.75 1133.45,198.82 1134.25,199.97 1134.97,201.21 1135.59,202.51 1136.13,203.87 1136.58,205.27 1136.95,206.70 1137.24,208.16 1137.44,209.63 1137.57,211.10 1137.61,212.57 1137.59,214.02 1137.49,215.46 1137.32,216.89 1137.09,218.32 1136.79,219.73 1136.43,221.14 1136.01,222.53 1135.54,223.92 1135.02,225.30 1134.45,226.67 1133.84,228.04 1133.18,229.40 1132.48,230.75 1131.74,232.09 1130.97,233.43 1130.17,234.76 1129.34,236.09 1128.49,237.41 1127.61,238.73 1126.71,240.04 1125.80,241.34 1124.87,242.65 1123.93,243.95 1122.99,245.24 1122.04,246.53 1121.08,247.82 1120.13,249.11 1119.18,250.39 1118.24,251.67 1117.31,252.95 1116.39,254.23 1115.48,255.51 1114.59,256.79 1113.72,258.06 1112.85,259.34 1112.01,260.61 1111.17,261.89 1110.35,263.16 1109.55,264.44 1108.75,265.71 1107.97,266.98 1107.20,268.26 1106.45,269.54 1105.70,270.82 1104.97,272.09 1104.24,273.38 1103.53,274.66 1102.83,275.94 1102.14,277.23 1101.46,278.52 1100.79,279.81 1100.12,281.10 1099.47,282.40 1098.83,283.69 1098.19,285.00 1097.56,286.30 1096.94,287.61 1096.33,288.92 1095.72,290.24 1095.12,291.56 1094.53,292.89 1093.95,294.22 1093.37,295.55 1092.79,296.89 1092.22,298.24 1091.66,299.58 1091.10,300.94 1090.55,302.30 1090.00,303.66 1089.45,305.03 1088.91,306.40 1088.37,307.78 1087.84,309.16 1087.31,310.54 1086.79,311.93 1086.26,313.32 1085.74,314.72 1085.22,316.12 1084.71,317.52 1084.20,318.92 1083.69,320.33 1083.18,321.74 1082.67,323.15 1082.16,324.57 1081.66,325.98 1081.16,327.40 1080.65,328.82 1080.15,330.24 1079.65,331.66 1079.15,333.09 1078.65,334.51 1078.15,335.94 1077.64,337.37 1077.14,338.80 1076.64,340.23 1076.13,341.65 1075.63,343.08 1075.12,344.51 1074.61,345.94 1074.10,347.37 1073.59,348.80 1073.07,350.23 1072.56,351.65 1072.04,353.08 1071.52,354.51 1070.99,355.93 1070.46,357.35 1069.93,358.77 1069.39,360.19 1068.85,361.61 1068.31,363.03 1067.76,364.44 1067.21,365.85 1066.65,367.26 1066.09,368.67 1065.52,370.07 1064.94,371.47 1064.37,372.87 1063.78,374.26 1063.19,375.66 1062.60,377.04 1061.99,378.43 1061.38,379.81 1060.77,381.18 1060.14,382.55 1059.51,383.92 1058.88,385.28 1058.23,386.64 1057.58,387.99 1056.92,389.34 1056.25,390.69 1055.57,392.03 1054.89,393.36 1054.20,394.69 1053.50,396.02 1052.79,397.34 1052.08,398.65 1051.36,399.97 1050.64,401.27 1049.90,402.58 1049.16,403.88 1048.42,405.17 1047.66,406.47 1046.90,407.75 1046.14,409.04 1045.37,410.32 1044.59,411.59 1043.80,412.86 1043.02,414.13 1042.22,415.40 1041.42,416.66 1040.61,417.92 1039.80,419.17 1038.98,420.42 1038.16,421.67 1037.33,422.91 1036.50,424.16 1035.66,425.39 1034.82,426.63 1033.97,427.86 1033.12,429.09 1032.26,430.31 1031.40,431.54 1030.53,432.76 1029.66,433.97 1028.78,435.19 1027.91,436.40 1027.02,437.61 1026.14,438.82 1025.25,440.02 1024.35,441.22 1023.45,442.42 1022.55,443.62 1021.65,444.82 1020.74,446.01 1019.83,447.20 1018.91,448.39 1017.99,449.57 1017.07,450.76 1016.15,451.94 1015.22,453.12 1014.30,454.30 1013.36,455.48 1012.43,456.65 1011.49,457.83 1010.56,459.00 1009.62,460.17 1008.67,461.34 1007.73,462.51 1006.78,463.68 1005.83,464.84 1004.88,466.01 1003.93,467.17 1002.98,468.33 1002.03,469.49 1001.07,470.65 1000.12,471.81 999.16,472.97 998.20,474.13 997.24,475.28 996.28,476.44 995.32,477.60 994.36,478.75 993.40,479.91 992.43,481.06 991.47,482.21 990.51,483.37 989.55,484.52 988.58,485.67 987.62,486.82 986.66,487.98 985.70,489.13 984.74,490.28 983.77,491.43 982.81,492.59 981.85,493.74 980.90,494.89 979.94,496.04 978.98,497.20 978.03,498.35 977.07,499.51 976.12,500.66 975.17,501.82 974.22,502.97 973.27,504.13 972.32,505.29 971.37,506.45 970.43,507.61 969.49,508.77 968.55,509.93 967.61,511.09" fill="none" stroke="#7b2ca2" stroke-width="5.8" stroke-linecap="round" stroke-linejoin="round" stroke-dasharray="42.70 26.00 0.01 25.40 0.01 26.06" stroke-dashoffset="119.40"/>
<g font-family="Liberation Serif" font-size="29" fill="#000" text-anchor="middle"><text x="1186.2" y="154.4">CASE-5</text><text x="684" y="379.7">CASE-4</text><text x="844.2" y="387.4">CASE-3</text><text x="824.2" y="463.4">CASE-2</text><text x="1153.9" y="422.8">CASE-1</text></g>
</svg>
</body></html>
